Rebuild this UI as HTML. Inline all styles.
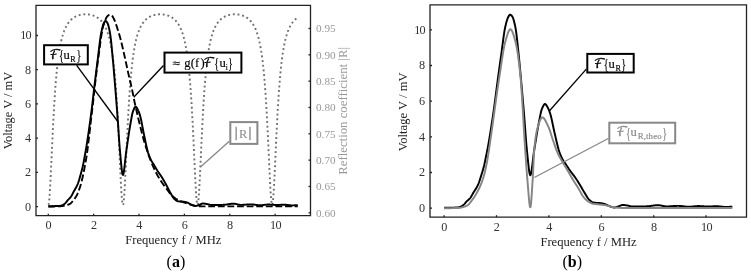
<!DOCTYPE html>
<html><head><meta charset="utf-8"><title>Figure</title><style>
html,body{margin:0;padding:0;background:#fff;}
svg{display:block;}
</style></head><body>
<svg width="751" height="274" viewBox="0 0 751 274" font-family="'Liberation Serif', 'DejaVu Serif', serif">
<path d="M48.30,204.96 L48.41,204.88 L48.53,204.65 L48.64,204.27 L48.75,203.74 L48.87,203.06 L48.98,202.23 L49.09,201.27 L49.21,200.17 L49.32,198.94 L49.43,197.58 L49.55,196.10 L49.66,194.51 L49.77,192.82 L49.89,191.02 L50.00,189.14 L50.11,187.16 L50.23,185.11 L50.34,182.99 L50.45,180.80 L50.57,178.56 L50.68,176.26 L50.79,173.92 L50.91,171.54 L51.02,169.13 L51.13,166.70 L51.25,164.24 L51.36,161.77 L51.48,159.29 L51.59,156.81 L51.70,154.32 L51.82,151.84 L51.93,149.36 L52.04,146.90 L52.16,144.45 L52.27,142.01 L52.38,139.60 L52.50,137.21 L52.61,134.84 L52.72,132.50 L52.84,130.19 L52.95,127.90 L53.06,125.65 L53.18,123.43 L53.29,121.24 L53.40,119.09 L53.52,116.97 L53.63,114.89 L53.74,112.85 L53.86,110.84 L53.97,108.86 L54.08,106.92 L54.20,105.02 L54.31,103.16 L54.42,101.33 L54.54,99.54 L54.65,97.79 L54.76,96.07 L54.88,94.38 L54.99,92.74 L55.10,91.12 L55.22,89.54 L55.33,88.00 L55.44,86.48 L55.56,85.00 L55.67,83.56 L55.78,82.14 L55.90,80.75 L56.01,79.40 L56.12,78.08 L56.24,76.78 L56.35,75.51 L56.46,74.27 L56.58,73.06 L56.69,71.88 L56.80,70.72 L56.92,69.59 L57.03,68.49 L57.15,67.40 L57.26,66.35 L57.37,65.31 L57.49,64.30 L57.60,63.31 L57.71,62.35 L57.83,61.40 L57.94,60.48 L58.05,59.57 L58.17,58.69 L58.28,57.83 L58.39,56.98 L58.51,56.16 L58.62,55.35 L58.73,54.56 L58.85,53.78 L58.96,53.03 L59.07,52.29 L59.19,51.56 L59.30,50.85 L59.41,50.16 L59.53,49.48 L59.64,48.82 L59.75,48.17 L59.87,47.53 L59.98,46.91 L60.09,46.30 L60.21,45.70 L60.32,45.12 L60.43,44.54 L60.55,43.98 L60.66,43.43 L60.77,42.90 L60.89,42.37 L61.00,41.85 L61.11,41.35 L61.23,40.85 L61.34,40.37 L61.45,39.89 L61.57,39.43 L61.68,38.97 L61.79,38.52 L61.91,38.08 L62.02,37.65 L62.13,37.23 L62.25,36.82 L62.36,36.41 L62.47,36.02 L62.59,35.63 L62.70,35.24 L62.82,34.87 L62.93,34.50 L63.04,34.14 L63.16,33.79 L63.27,33.44 L63.38,33.10 L63.50,32.76 L63.61,32.43 L63.72,32.11 L63.84,31.80 L63.95,31.49 L64.06,31.18 L64.18,30.88 L64.29,30.59 L64.40,30.30 L64.52,30.02 L64.63,29.74 L64.74,29.47 L64.86,29.20 L64.97,28.93 L65.08,28.68 L65.20,28.42 L65.31,28.17 L65.42,27.93 L65.54,27.69 L65.65,27.45 L65.76,27.22 L65.88,26.99 L65.99,26.76 L66.10,26.54 L66.22,26.33 L66.33,26.11 L66.44,25.90 L66.56,25.70 L66.67,25.49 L66.78,25.29 L66.90,25.10 L67.01,24.91 L67.12,24.72 L67.24,24.53 L67.35,24.35 L67.46,24.17 L67.58,23.99 L67.69,23.82 L67.80,23.64 L67.92,23.48 L68.03,23.31 L68.14,23.15 L68.26,22.99 L68.37,22.83 L68.49,22.67 L68.60,22.52 L68.71,22.37 L68.83,22.22 L68.94,22.08 L69.05,21.93 L69.17,21.79 L69.28,21.65 L69.39,21.52 L69.51,21.38 L69.62,21.25 L69.73,21.12 L69.85,20.99 L69.96,20.87 L70.07,20.74 L70.19,20.62 L70.30,20.50 L70.41,20.38 L70.53,20.26 L70.64,20.15 L70.75,20.04 L70.87,19.93 L70.98,19.82 L71.09,19.71 L71.21,19.60 L71.32,19.50 L71.43,19.40 L71.55,19.29 L71.66,19.20 L71.77,19.10 L71.89,19.00 L72.00,18.91 L72.11,18.81 L72.23,18.72 L72.34,18.63 L72.45,18.54 L72.57,18.45 L72.68,18.37 L72.79,18.28 L72.91,18.20 L73.02,18.11 L73.13,18.03 L73.25,17.95 L73.36,17.87 L73.47,17.80 L73.59,17.72 L73.70,17.64 L73.81,17.57 L73.93,17.50 L74.04,17.43 L74.16,17.36 L74.27,17.29 L74.38,17.22 L74.50,17.15 L74.61,17.08 L74.72,17.02 L74.84,16.95 L74.95,16.89 L75.06,16.83 L75.18,16.77 L75.29,16.71 L75.40,16.65 L75.52,16.59 L75.63,16.53 L75.74,16.48 L75.86,16.42 L75.97,16.37 L76.08,16.31 L76.20,16.26 L76.31,16.21 L76.42,16.16 L76.54,16.11 L76.65,16.06 L76.76,16.01 L76.88,15.96 L76.99,15.92 L77.10,15.87 L77.22,15.82 L77.33,15.78 L77.44,15.74 L77.56,15.69 L77.67,15.65 L77.78,15.61 L77.90,15.57 L78.01,15.53 L78.12,15.49 L78.24,15.45 L78.35,15.42 L78.46,15.38 L78.58,15.34 L78.69,15.31 L78.80,15.27 L78.92,15.24 L79.03,15.21 L79.14,15.17 L79.26,15.14 L79.37,15.11 L79.48,15.08 L79.60,15.05 L79.71,15.02 L79.83,14.99 L79.94,14.96 L80.05,14.93 L80.17,14.91 L80.28,14.88 L80.39,14.86 L80.51,14.83 L80.62,14.81 L80.73,14.78 L80.85,14.76 L80.96,14.74 L81.07,14.72 L81.19,14.69 L81.30,14.67 L81.41,14.65 L81.53,14.63 L81.64,14.61 L81.75,14.60 L81.87,14.58 L81.98,14.56 L82.09,14.54 L82.21,14.53 L82.32,14.51 L82.43,14.50 L82.55,14.48 L82.66,14.47 L82.77,14.45 L82.89,14.44 L83.00,14.43 L83.11,14.42 L83.23,14.41 L83.34,14.40 L83.45,14.38 L83.57,14.38 L83.68,14.37 L83.79,14.36 L83.91,14.35 L84.02,14.34 L84.13,14.33 L84.25,14.33 L84.36,14.32 L84.47,14.32 L84.59,14.31 L84.70,14.31 L84.81,14.30 L84.93,14.30 L85.04,14.30 L85.16,14.30 L85.27,14.29 L85.38,14.29 L85.50,14.29 L85.61,14.29 L85.72,14.29 L85.84,14.29 L85.95,14.29 L86.06,14.30 L86.18,14.30 L86.29,14.30 L86.40,14.30 L86.52,14.31 L86.63,14.31 L86.74,14.32 L86.86,14.32 L86.97,14.33 L87.08,14.33 L87.20,14.34 L87.31,14.35 L87.42,14.36 L87.54,14.37 L87.65,14.38 L87.76,14.38 L87.88,14.40 L87.99,14.41 L88.10,14.42 L88.22,14.43 L88.33,14.44 L88.44,14.45 L88.56,14.47 L88.67,14.48 L88.78,14.50 L88.90,14.51 L89.01,14.53 L89.12,14.54 L89.24,14.56 L89.35,14.58 L89.46,14.60 L89.58,14.61 L89.69,14.63 L89.80,14.65 L89.92,14.67 L90.03,14.69 L90.14,14.72 L90.26,14.74 L90.37,14.76 L90.48,14.78 L90.60,14.81 L90.71,14.83 L90.82,14.86 L90.94,14.88 L91.05,14.91 L91.17,14.93 L91.28,14.96 L91.39,14.99 L91.51,15.02 L91.62,15.05 L91.73,15.08 L91.85,15.11 L91.96,15.14 L92.07,15.17 L92.19,15.21 L92.30,15.24 L92.41,15.27 L92.53,15.31 L92.64,15.34 L92.75,15.38 L92.87,15.42 L92.98,15.45 L93.09,15.49 L93.21,15.53 L93.32,15.57 L93.43,15.61 L93.55,15.65 L93.66,15.69 L93.77,15.74 L93.89,15.78 L94.00,15.82 L94.11,15.87 L94.23,15.92 L94.34,15.96 L94.45,16.01 L94.57,16.06 L94.68,16.11 L94.79,16.16 L94.91,16.21 L95.02,16.26 L95.13,16.31 L95.25,16.37 L95.36,16.42 L95.47,16.48 L95.59,16.53 L95.70,16.59 L95.81,16.65 L95.93,16.71 L96.04,16.77 L96.15,16.83 L96.27,16.89 L96.38,16.95 L96.50,17.02 L96.61,17.08 L96.72,17.15 L96.84,17.22 L96.95,17.29 L97.06,17.36 L97.18,17.43 L97.29,17.50 L97.40,17.57 L97.52,17.64 L97.63,17.72 L97.74,17.80 L97.86,17.87 L97.97,17.95 L98.08,18.03 L98.20,18.11 L98.31,18.20 L98.42,18.28 L98.54,18.37 L98.65,18.45 L98.76,18.54 L98.88,18.63 L98.99,18.72 L99.10,18.81 L99.22,18.91 L99.33,19.00 L99.44,19.10 L99.56,19.20 L99.67,19.29 L99.78,19.40 L99.90,19.50 L100.01,19.60 L100.12,19.71 L100.24,19.82 L100.35,19.93 L100.46,20.04 L100.58,20.15 L100.69,20.26 L100.80,20.38 L100.92,20.50 L101.03,20.62 L101.14,20.74 L101.26,20.87 L101.37,20.99 L101.48,21.12 L101.60,21.25 L101.71,21.38 L101.82,21.52 L101.94,21.65 L102.05,21.79 L102.16,21.93 L102.28,22.08 L102.39,22.22 L102.51,22.37 L102.62,22.52 L102.73,22.67 L102.85,22.83 L102.96,22.99 L103.07,23.15 L103.19,23.31 L103.30,23.48 L103.41,23.64 L103.53,23.82 L103.64,23.99 L103.75,24.17 L103.87,24.35 L103.98,24.53 L104.09,24.72 L104.21,24.91 L104.32,25.10 L104.43,25.29 L104.55,25.49 L104.66,25.70 L104.77,25.90 L104.89,26.11 L105.00,26.33 L105.11,26.54 L105.23,26.76 L105.34,26.99 L105.45,27.22 L105.57,27.45 L105.68,27.69 L105.79,27.93 L105.91,28.17 L106.02,28.42 L106.13,28.68 L106.25,28.93 L106.36,29.20 L106.47,29.47 L106.59,29.74 L106.70,30.02 L106.81,30.30 L106.93,30.59 L107.04,30.88 L107.15,31.18 L107.27,31.49 L107.38,31.80 L107.49,32.11 L107.61,32.43 L107.72,32.76 L107.83,33.10 L107.95,33.44 L108.06,33.79 L108.18,34.14 L108.29,34.50 L108.40,34.87 L108.52,35.24 L108.63,35.63 L108.74,36.02 L108.86,36.41 L108.97,36.82 L109.08,37.23 L109.20,37.65 L109.31,38.08 L109.42,38.52 L109.54,38.97 L109.65,39.43 L109.76,39.89 L109.88,40.37 L109.99,40.85 L110.10,41.35 L110.22,41.85 L110.33,42.37 L110.44,42.90 L110.56,43.43 L110.67,43.98 L110.78,44.54 L110.90,45.12 L111.01,45.70 L111.12,46.30 L111.24,46.91 L111.35,47.53 L111.46,48.17 L111.58,48.82 L111.69,49.48 L111.80,50.16 L111.92,50.85 L112.03,51.56 L112.14,52.29 L112.26,53.03 L112.37,53.78 L112.48,54.56 L112.60,55.35 L112.71,56.16 L112.82,56.98 L112.94,57.83 L113.05,58.69 L113.16,59.57 L113.28,60.48 L113.39,61.40 L113.50,62.35 L113.62,63.31 L113.73,64.30 L113.85,65.31 L113.96,66.35 L114.07,67.40 L114.19,68.49 L114.30,69.59 L114.41,70.72 L114.53,71.88 L114.64,73.06 L114.75,74.27 L114.87,75.51 L114.98,76.78 L115.09,78.08 L115.21,79.40 L115.32,80.75 L115.43,82.14 L115.55,83.56 L115.66,85.00 L115.77,86.48 L115.89,88.00 L116.00,89.54 L116.11,91.12 L116.23,92.74 L116.34,94.38 L116.45,96.07 L116.57,97.79 L116.68,99.54 L116.79,101.33 L116.91,103.16 L117.02,105.02 L117.13,106.92 L117.25,108.86 L117.36,110.84 L117.47,112.85 L117.59,114.89 L117.70,116.97 L117.81,119.09 L117.93,121.24 L118.04,123.43 L118.15,125.65 L118.27,127.90 L118.38,130.19 L118.49,132.50 L118.61,134.84 L118.72,137.21 L118.83,139.60 L118.95,142.01 L119.06,144.45 L119.17,146.90 L119.29,149.36 L119.40,151.84 L119.52,154.32 L119.63,156.81 L119.74,159.29 L119.86,161.77 L119.97,164.24 L120.08,166.70 L120.20,169.13 L120.31,171.54 L120.42,173.92 L120.54,176.26 L120.65,178.56 L120.76,180.80 L120.88,182.99 L120.99,185.11 L121.10,187.16 L121.22,189.14 L121.33,191.02 L121.44,192.82 L121.56,194.51 L121.67,196.10 L121.78,197.58 L121.90,198.94 L122.01,200.17 L122.12,201.27 L122.24,202.23 L122.35,203.06 L122.46,203.74 L122.58,204.27 L122.69,204.65 L122.80,204.88 L122.92,204.96 L123.03,204.88 L123.14,204.65 L123.26,204.27 L123.37,203.74 L123.48,203.06 L123.60,202.23 L123.71,201.27 L123.82,200.17 L123.94,198.94 L124.05,197.58 L124.16,196.10 L124.28,194.51 L124.39,192.82 L124.50,191.02 L124.62,189.14 L124.73,187.16 L124.84,185.11 L124.96,182.99 L125.07,180.80 L125.19,178.56 L125.30,176.26 L125.41,173.92 L125.53,171.54 L125.64,169.13 L125.75,166.70 L125.87,164.24 L125.98,161.77 L126.09,159.29 L126.21,156.81 L126.32,154.32 L126.43,151.84 L126.55,149.36 L126.66,146.90 L126.77,144.45 L126.89,142.01 L127.00,139.60 L127.11,137.21 L127.23,134.84 L127.34,132.50 L127.45,130.19 L127.57,127.90 L127.68,125.65 L127.79,123.43 L127.91,121.24 L128.02,119.09 L128.13,116.97 L128.25,114.89 L128.36,112.85 L128.47,110.84 L128.59,108.86 L128.70,106.92 L128.81,105.02 L128.93,103.16 L129.04,101.33 L129.15,99.54 L129.27,97.79 L129.38,96.07 L129.49,94.38 L129.61,92.74 L129.72,91.12 L129.83,89.54 L129.95,88.00 L130.06,86.48 L130.17,85.00 L130.29,83.56 L130.40,82.14 L130.51,80.75 L130.63,79.40 L130.74,78.08 L130.86,76.78 L130.97,75.51 L131.08,74.27 L131.20,73.06 L131.31,71.88 L131.42,70.72 L131.54,69.59 L131.65,68.49 L131.76,67.40 L131.88,66.35 L131.99,65.31 L132.10,64.30 L132.22,63.31 L132.33,62.35 L132.44,61.40 L132.56,60.48 L132.67,59.57 L132.78,58.69 L132.90,57.83 L133.01,56.98 L133.12,56.16 L133.24,55.35 L133.35,54.56 L133.46,53.78 L133.58,53.03 L133.69,52.29 L133.80,51.56 L133.92,50.85 L134.03,50.16 L134.14,49.48 L134.26,48.82 L134.37,48.17 L134.48,47.53 L134.60,46.91 L134.71,46.30 L134.82,45.70 L134.94,45.12 L135.05,44.54 L135.16,43.98 L135.28,43.43 L135.39,42.90 L135.50,42.37 L135.62,41.85 L135.73,41.35 L135.84,40.85 L135.96,40.37 L136.07,39.89 L136.19,39.43 L136.30,38.97 L136.41,38.52 L136.53,38.08 L136.64,37.65 L136.75,37.23 L136.87,36.82 L136.98,36.41 L137.09,36.02 L137.21,35.63 L137.32,35.24 L137.43,34.87 L137.55,34.50 L137.66,34.14 L137.77,33.79 L137.89,33.44 L138.00,33.10 L138.11,32.76 L138.23,32.43 L138.34,32.11 L138.45,31.80 L138.57,31.49 L138.68,31.18 L138.79,30.88 L138.91,30.59 L139.02,30.30 L139.13,30.02 L139.25,29.74 L139.36,29.47 L139.47,29.20 L139.59,28.93 L139.70,28.68 L139.81,28.42 L139.93,28.17 L140.04,27.93 L140.15,27.69 L140.27,27.45 L140.38,27.22 L140.49,26.99 L140.61,26.76 L140.72,26.54 L140.83,26.33 L140.95,26.11 L141.06,25.90 L141.17,25.70 L141.29,25.49 L141.40,25.29 L141.51,25.10 L141.63,24.91 L141.74,24.72 L141.85,24.53 L141.97,24.35 L142.08,24.17 L142.20,23.99 L142.31,23.82 L142.42,23.64 L142.54,23.48 L142.65,23.31 L142.76,23.15 L142.88,22.99 L142.99,22.83 L143.10,22.67 L143.22,22.52 L143.33,22.37 L143.44,22.22 L143.56,22.08 L143.67,21.93 L143.78,21.79 L143.90,21.65 L144.01,21.52 L144.12,21.38 L144.24,21.25 L144.35,21.12 L144.46,20.99 L144.58,20.87 L144.69,20.74 L144.80,20.62 L144.92,20.50 L145.03,20.38 L145.14,20.26 L145.26,20.15 L145.37,20.04 L145.48,19.93 L145.60,19.82 L145.71,19.71 L145.82,19.60 L145.94,19.50 L146.05,19.40 L146.16,19.29 L146.28,19.20 L146.39,19.10 L146.50,19.00 L146.62,18.91 L146.73,18.81 L146.84,18.72 L146.96,18.63 L147.07,18.54 L147.18,18.45 L147.30,18.37 L147.41,18.28 L147.52,18.20 L147.64,18.11 L147.75,18.03 L147.87,17.95 L147.98,17.87 L148.09,17.80 L148.21,17.72 L148.32,17.64 L148.43,17.57 L148.55,17.50 L148.66,17.43 L148.77,17.36 L148.89,17.29 L149.00,17.22 L149.11,17.15 L149.23,17.08 L149.34,17.02 L149.45,16.95 L149.57,16.89 L149.68,16.83 L149.79,16.77 L149.91,16.71 L150.02,16.65 L150.13,16.59 L150.25,16.53 L150.36,16.48 L150.47,16.42 L150.59,16.37 L150.70,16.31 L150.81,16.26 L150.93,16.21 L151.04,16.16 L151.15,16.11 L151.27,16.06 L151.38,16.01 L151.49,15.96 L151.61,15.92 L151.72,15.87 L151.83,15.82 L151.95,15.78 L152.06,15.74 L152.17,15.69 L152.29,15.65 L152.40,15.61 L152.51,15.57 L152.63,15.53 L152.74,15.49 L152.85,15.45 L152.97,15.42 L153.08,15.38 L153.19,15.34 L153.31,15.31 L153.42,15.27 L153.54,15.24 L153.65,15.21 L153.76,15.17 L153.88,15.14 L153.99,15.11 L154.10,15.08 L154.22,15.05 L154.33,15.02 L154.44,14.99 L154.56,14.96 L154.67,14.93 L154.78,14.91 L154.90,14.88 L155.01,14.86 L155.12,14.83 L155.24,14.81 L155.35,14.78 L155.46,14.76 L155.58,14.74 L155.69,14.72 L155.80,14.69 L155.92,14.67 L156.03,14.65 L156.14,14.63 L156.26,14.61 L156.37,14.60 L156.48,14.58 L156.60,14.56 L156.71,14.54 L156.82,14.53 L156.94,14.51 L157.05,14.50 L157.16,14.48 L157.28,14.47 L157.39,14.45 L157.50,14.44 L157.62,14.43 L157.73,14.42 L157.84,14.41 L157.96,14.40 L158.07,14.38 L158.18,14.38 L158.30,14.37 L158.41,14.36 L158.52,14.35 L158.64,14.34 L158.75,14.33 L158.87,14.33 L158.98,14.32 L159.09,14.32 L159.21,14.31 L159.32,14.31 L159.43,14.30 L159.55,14.30 L159.66,14.30 L159.77,14.30 L159.89,14.29 L160.00,14.29 L160.11,14.29 L160.23,14.29 L160.34,14.29 L160.45,14.29 L160.57,14.29 L160.68,14.30 L160.79,14.30 L160.91,14.30 L161.02,14.30 L161.13,14.31 L161.25,14.31 L161.36,14.32 L161.47,14.32 L161.59,14.33 L161.70,14.33 L161.81,14.34 L161.93,14.35 L162.04,14.36 L162.15,14.37 L162.27,14.38 L162.38,14.38 L162.49,14.40 L162.61,14.41 L162.72,14.42 L162.83,14.43 L162.95,14.44 L163.06,14.45 L163.17,14.47 L163.29,14.48 L163.40,14.50 L163.51,14.51 L163.63,14.53 L163.74,14.54 L163.85,14.56 L163.97,14.58 L164.08,14.60 L164.19,14.61 L164.31,14.63 L164.42,14.65 L164.53,14.67 L164.65,14.69 L164.76,14.72 L164.88,14.74 L164.99,14.76 L165.10,14.78 L165.22,14.81 L165.33,14.83 L165.44,14.86 L165.56,14.88 L165.67,14.91 L165.78,14.93 L165.90,14.96 L166.01,14.99 L166.12,15.02 L166.24,15.05 L166.35,15.08 L166.46,15.11 L166.58,15.14 L166.69,15.17 L166.80,15.21 L166.92,15.24 L167.03,15.27 L167.14,15.31 L167.26,15.34 L167.37,15.38 L167.48,15.42 L167.60,15.45 L167.71,15.49 L167.82,15.53 L167.94,15.57 L168.05,15.61 L168.16,15.65 L168.28,15.69 L168.39,15.74 L168.50,15.78 L168.62,15.82 L168.73,15.87 L168.84,15.92 L168.96,15.96 L169.07,16.01 L169.18,16.06 L169.30,16.11 L169.41,16.16 L169.52,16.21 L169.64,16.26 L169.75,16.31 L169.86,16.37 L169.98,16.42 L170.09,16.48 L170.20,16.53 L170.32,16.59 L170.43,16.65 L170.55,16.71 L170.66,16.77 L170.77,16.83 L170.89,16.89 L171.00,16.95 L171.11,17.02 L171.23,17.08 L171.34,17.15 L171.45,17.22 L171.57,17.29 L171.68,17.36 L171.79,17.43 L171.91,17.50 L172.02,17.57 L172.13,17.64 L172.25,17.72 L172.36,17.80 L172.47,17.87 L172.59,17.95 L172.70,18.03 L172.81,18.11 L172.93,18.20 L173.04,18.28 L173.15,18.37 L173.27,18.45 L173.38,18.54 L173.49,18.63 L173.61,18.72 L173.72,18.81 L173.83,18.91 L173.95,19.00 L174.06,19.10 L174.17,19.20 L174.29,19.29 L174.40,19.40 L174.51,19.50 L174.63,19.60 L174.74,19.71 L174.85,19.82 L174.97,19.93 L175.08,20.04 L175.19,20.15 L175.31,20.26 L175.42,20.38 L175.53,20.50 L175.65,20.62 L175.76,20.74 L175.88,20.87 L175.99,20.99 L176.10,21.12 L176.22,21.25 L176.33,21.38 L176.44,21.52 L176.56,21.65 L176.67,21.79 L176.78,21.93 L176.90,22.08 L177.01,22.22 L177.12,22.37 L177.24,22.52 L177.35,22.67 L177.46,22.83 L177.58,22.99 L177.69,23.15 L177.80,23.31 L177.92,23.48 L178.03,23.64 L178.14,23.82 L178.26,23.99 L178.37,24.17 L178.48,24.35 L178.60,24.53 L178.71,24.72 L178.82,24.91 L178.94,25.10 L179.05,25.29 L179.16,25.49 L179.28,25.70 L179.39,25.90 L179.50,26.11 L179.62,26.33 L179.73,26.54 L179.84,26.76 L179.96,26.99 L180.07,27.22 L180.18,27.45 L180.30,27.69 L180.41,27.93 L180.52,28.17 L180.64,28.42 L180.75,28.68 L180.86,28.93 L180.98,29.20 L181.09,29.47 L181.20,29.74 L181.32,30.02 L181.43,30.30 L181.55,30.59 L181.66,30.88 L181.77,31.18 L181.89,31.49 L182.00,31.80 L182.11,32.11 L182.23,32.43 L182.34,32.76 L182.45,33.10 L182.57,33.44 L182.68,33.79 L182.79,34.14 L182.91,34.50 L183.02,34.87 L183.13,35.24 L183.25,35.63 L183.36,36.02 L183.47,36.41 L183.59,36.82 L183.70,37.23 L183.81,37.65 L183.93,38.08 L184.04,38.52 L184.15,38.97 L184.27,39.43 L184.38,39.89 L184.49,40.37 L184.61,40.85 L184.72,41.35 L184.83,41.85 L184.95,42.37 L185.06,42.90 L185.17,43.43 L185.29,43.98 L185.40,44.54 L185.51,45.12 L185.63,45.70 L185.74,46.30 L185.85,46.91 L185.97,47.53 L186.08,48.17 L186.19,48.82 L186.31,49.48 L186.42,50.16 L186.53,50.85 L186.65,51.56 L186.76,52.29 L186.87,53.03 L186.99,53.78 L187.10,54.56 L187.21,55.35 L187.33,56.16 L187.44,56.98 L187.56,57.83 L187.67,58.69 L187.78,59.57 L187.90,60.48 L188.01,61.40 L188.12,62.35 L188.24,63.31 L188.35,64.30 L188.46,65.31 L188.58,66.35 L188.69,67.40 L188.80,68.49 L188.92,69.59 L189.03,70.72 L189.14,71.88 L189.26,73.06 L189.37,74.27 L189.48,75.51 L189.60,76.78 L189.71,78.08 L189.82,79.40 L189.94,80.75 L190.05,82.14 L190.16,83.56 L190.28,85.00 L190.39,86.48 L190.50,88.00 L190.62,89.54 L190.73,91.12 L190.84,92.74 L190.96,94.38 L191.07,96.07 L191.18,97.79 L191.30,99.54 L191.41,101.33 L191.52,103.16 L191.64,105.02 L191.75,106.92 L191.86,108.86 L191.98,110.84 L192.09,112.85 L192.20,114.89 L192.32,116.97 L192.43,119.09 L192.54,121.24 L192.66,123.43 L192.77,125.65 L192.88,127.90 L193.00,130.19 L193.11,132.50 L193.23,134.84 L193.34,137.21 L193.45,139.60 L193.57,142.01 L193.68,144.45 L193.79,146.90 L193.91,149.36 L194.02,151.84 L194.13,154.32 L194.25,156.81 L194.36,159.29 L194.47,161.77 L194.59,164.24 L194.70,166.70 L194.81,169.13 L194.93,171.54 L195.04,173.92 L195.15,176.26 L195.27,178.56 L195.38,180.80 L195.49,182.99 L195.61,185.11 L195.72,187.16 L195.83,189.14 L195.95,191.02 L196.06,192.82 L196.17,194.51 L196.29,196.10 L196.40,197.58 L196.51,198.94 L196.63,200.17 L196.74,201.27 L196.85,202.23 L196.97,203.06 L197.08,203.74 L197.19,204.27 L197.31,204.65 L197.42,204.88 L197.53,204.96 L197.65,204.88 L197.76,204.65 L197.87,204.27 L197.99,203.74 L198.10,203.06 L198.21,202.23 L198.33,201.27 L198.44,200.17 L198.56,198.94 L198.67,197.58 L198.78,196.10 L198.90,194.51 L199.01,192.82 L199.12,191.02 L199.24,189.14 L199.35,187.16 L199.46,185.11 L199.58,182.99 L199.69,180.80 L199.80,178.56 L199.92,176.26 L200.03,173.92 L200.14,171.54 L200.26,169.13 L200.37,166.70 L200.48,164.24 L200.60,161.77 L200.71,159.29 L200.82,156.81 L200.94,154.32 L201.05,151.84 L201.16,149.36 L201.28,146.90 L201.39,144.45 L201.50,142.01 L201.62,139.60 L201.73,137.21 L201.84,134.84 L201.96,132.50 L202.07,130.19 L202.18,127.90 L202.30,125.65 L202.41,123.43 L202.52,121.24 L202.64,119.09 L202.75,116.97 L202.86,114.89 L202.98,112.85 L203.09,110.84 L203.20,108.86 L203.32,106.92 L203.43,105.02 L203.54,103.16 L203.66,101.33 L203.77,99.54 L203.88,97.79 L204.00,96.07 L204.11,94.38 L204.23,92.74 L204.34,91.12 L204.45,89.54 L204.57,88.00 L204.68,86.48 L204.79,85.00 L204.91,83.56 L205.02,82.14 L205.13,80.75 L205.25,79.40 L205.36,78.08 L205.47,76.78 L205.59,75.51 L205.70,74.27 L205.81,73.06 L205.93,71.88 L206.04,70.72 L206.15,69.59 L206.27,68.49 L206.38,67.40 L206.49,66.35 L206.61,65.31 L206.72,64.30 L206.83,63.31 L206.95,62.35 L207.06,61.40 L207.17,60.48 L207.29,59.57 L207.40,58.69 L207.51,57.83 L207.63,56.98 L207.74,56.16 L207.85,55.35 L207.97,54.56 L208.08,53.78 L208.19,53.03 L208.31,52.29 L208.42,51.56 L208.53,50.85 L208.65,50.16 L208.76,49.48 L208.87,48.82 L208.99,48.17 L209.10,47.53 L209.21,46.91 L209.33,46.30 L209.44,45.70 L209.55,45.12 L209.67,44.54 L209.78,43.98 L209.89,43.43 L210.01,42.90 L210.12,42.37 L210.24,41.85 L210.35,41.35 L210.46,40.85 L210.58,40.37 L210.69,39.89 L210.80,39.43 L210.92,38.97 L211.03,38.52 L211.14,38.08 L211.26,37.65 L211.37,37.23 L211.48,36.82 L211.60,36.41 L211.71,36.02 L211.82,35.63 L211.94,35.24 L212.05,34.87 L212.16,34.50 L212.28,34.14 L212.39,33.79 L212.50,33.44 L212.62,33.10 L212.73,32.76 L212.84,32.43 L212.96,32.11 L213.07,31.80 L213.18,31.49 L213.30,31.18 L213.41,30.88 L213.52,30.59 L213.64,30.30 L213.75,30.02 L213.86,29.74 L213.98,29.47 L214.09,29.20 L214.20,28.93 L214.32,28.68 L214.43,28.42 L214.54,28.17 L214.66,27.93 L214.77,27.69 L214.88,27.45 L215.00,27.22 L215.11,26.99 L215.22,26.76 L215.34,26.54 L215.45,26.33 L215.56,26.11 L215.68,25.90 L215.79,25.70 L215.91,25.49 L216.02,25.29 L216.13,25.10 L216.25,24.91 L216.36,24.72 L216.47,24.53 L216.59,24.35 L216.70,24.17 L216.81,23.99 L216.93,23.82 L217.04,23.64 L217.15,23.48 L217.27,23.31 L217.38,23.15 L217.49,22.99 L217.61,22.83 L217.72,22.67 L217.83,22.52 L217.95,22.37 L218.06,22.22 L218.17,22.08 L218.29,21.93 L218.40,21.79 L218.51,21.65 L218.63,21.52 L218.74,21.38 L218.85,21.25 L218.97,21.12 L219.08,20.99 L219.19,20.87 L219.31,20.74 L219.42,20.62 L219.53,20.50 L219.65,20.38 L219.76,20.26 L219.87,20.15 L219.99,20.04 L220.10,19.93 L220.21,19.82 L220.33,19.71 L220.44,19.60 L220.55,19.50 L220.67,19.40 L220.78,19.29 L220.89,19.20 L221.01,19.10 L221.12,19.00 L221.24,18.91 L221.35,18.81 L221.46,18.72 L221.58,18.63 L221.69,18.54 L221.80,18.45 L221.92,18.37 L222.03,18.28 L222.14,18.20 L222.26,18.11 L222.37,18.03 L222.48,17.95 L222.60,17.87 L222.71,17.80 L222.82,17.72 L222.94,17.64 L223.05,17.57 L223.16,17.50 L223.28,17.43 L223.39,17.36 L223.50,17.29 L223.62,17.22 L223.73,17.15 L223.84,17.08 L223.96,17.02 L224.07,16.95 L224.18,16.89 L224.30,16.83 L224.41,16.77 L224.52,16.71 L224.64,16.65 L224.75,16.59 L224.86,16.53 L224.98,16.48 L225.09,16.42 L225.20,16.37 L225.32,16.31 L225.43,16.26 L225.54,16.21 L225.66,16.16 L225.77,16.11 L225.88,16.06 L226.00,16.01 L226.11,15.96 L226.22,15.92 L226.34,15.87 L226.45,15.82 L226.56,15.78 L226.68,15.74 L226.79,15.69 L226.90,15.65 L227.02,15.61 L227.13,15.57 L227.25,15.53 L227.36,15.49 L227.47,15.45 L227.59,15.42 L227.70,15.38 L227.81,15.34 L227.93,15.31 L228.04,15.27 L228.15,15.24 L228.27,15.21 L228.38,15.17 L228.49,15.14 L228.61,15.11 L228.72,15.08 L228.83,15.05 L228.95,15.02 L229.06,14.99 L229.17,14.96 L229.29,14.93 L229.40,14.91 L229.51,14.88 L229.63,14.86 L229.74,14.83 L229.85,14.81 L229.97,14.78 L230.08,14.76 L230.19,14.74 L230.31,14.72 L230.42,14.69 L230.53,14.67 L230.65,14.65 L230.76,14.63 L230.87,14.61 L230.99,14.60 L231.10,14.58 L231.21,14.56 L231.33,14.54 L231.44,14.53 L231.55,14.51 L231.67,14.50 L231.78,14.48 L231.89,14.47 L232.01,14.45 L232.12,14.44 L232.23,14.43 L232.35,14.42 L232.46,14.41 L232.57,14.40 L232.69,14.38 L232.80,14.38 L232.92,14.37 L233.03,14.36 L233.14,14.35 L233.26,14.34 L233.37,14.33 L233.48,14.33 L233.60,14.32 L233.71,14.32 L233.82,14.31 L233.94,14.31 L234.05,14.30 L234.16,14.30 L234.28,14.30 L234.39,14.30 L234.50,14.29 L234.62,14.29 L234.73,14.29 L234.84,14.29 L234.96,14.29 L235.07,14.29 L235.18,14.29 L235.30,14.30 L235.41,14.30 L235.52,14.30 L235.64,14.30 L235.75,14.31 L235.86,14.31 L235.98,14.32 L236.09,14.32 L236.20,14.33 L236.32,14.33 L236.43,14.34 L236.54,14.35 L236.66,14.36 L236.77,14.37 L236.88,14.38 L237.00,14.38 L237.11,14.40 L237.22,14.41 L237.34,14.42 L237.45,14.43 L237.56,14.44 L237.68,14.45 L237.79,14.47 L237.90,14.48 L238.02,14.50 L238.13,14.51 L238.25,14.53 L238.36,14.54 L238.47,14.56 L238.59,14.58 L238.70,14.60 L238.81,14.61 L238.93,14.63 L239.04,14.65 L239.15,14.67 L239.27,14.69 L239.38,14.72 L239.49,14.74 L239.61,14.76 L239.72,14.78 L239.83,14.81 L239.95,14.83 L240.06,14.86 L240.17,14.88 L240.29,14.91 L240.40,14.93 L240.51,14.96 L240.63,14.99 L240.74,15.02 L240.85,15.05 L240.97,15.08 L241.08,15.11 L241.19,15.14 L241.31,15.17 L241.42,15.21 L241.53,15.24 L241.65,15.27 L241.76,15.31 L241.87,15.34 L241.99,15.38 L242.10,15.42 L242.21,15.45 L242.33,15.49 L242.44,15.53 L242.55,15.57 L242.67,15.61 L242.78,15.65 L242.89,15.69 L243.01,15.74 L243.12,15.78 L243.23,15.82 L243.35,15.87 L243.46,15.92 L243.57,15.96 L243.69,16.01 L243.80,16.06 L243.92,16.11 L244.03,16.16 L244.14,16.21 L244.26,16.26 L244.37,16.31 L244.48,16.37 L244.60,16.42 L244.71,16.48 L244.82,16.53 L244.94,16.59 L245.05,16.65 L245.16,16.71 L245.28,16.77 L245.39,16.83 L245.50,16.89 L245.62,16.95 L245.73,17.02 L245.84,17.08 L245.96,17.15 L246.07,17.22 L246.18,17.29 L246.30,17.36 L246.41,17.43 L246.52,17.50 L246.64,17.57 L246.75,17.64 L246.86,17.72 L246.98,17.80 L247.09,17.87 L247.20,17.95 L247.32,18.03 L247.43,18.11 L247.54,18.20 L247.66,18.28 L247.77,18.37 L247.88,18.45 L248.00,18.54 L248.11,18.63 L248.22,18.72 L248.34,18.81 L248.45,18.91 L248.56,19.00 L248.68,19.10 L248.79,19.20 L248.90,19.29 L249.02,19.40 L249.13,19.50 L249.24,19.60 L249.36,19.71 L249.47,19.82 L249.58,19.93 L249.70,20.04 L249.81,20.15 L249.93,20.26 L250.04,20.38 L250.15,20.50 L250.27,20.62 L250.38,20.74 L250.49,20.87 L250.61,20.99 L250.72,21.12 L250.83,21.25 L250.95,21.38 L251.06,21.52 L251.17,21.65 L251.29,21.79 L251.40,21.93 L251.51,22.08 L251.63,22.22 L251.74,22.37 L251.85,22.52 L251.97,22.67 L252.08,22.83 L252.19,22.99 L252.31,23.15 L252.42,23.31 L252.53,23.48 L252.65,23.64 L252.76,23.82 L252.87,23.99 L252.99,24.17 L253.10,24.35 L253.21,24.53 L253.33,24.72 L253.44,24.91 L253.55,25.10 L253.67,25.29 L253.78,25.49 L253.89,25.70 L254.01,25.90 L254.12,26.11 L254.23,26.33 L254.35,26.54 L254.46,26.76 L254.57,26.99 L254.69,27.22 L254.80,27.45 L254.91,27.69 L255.03,27.93 L255.14,28.17 L255.25,28.42 L255.37,28.68 L255.48,28.93 L255.60,29.20 L255.71,29.47 L255.82,29.74 L255.94,30.02 L256.05,30.30 L256.16,30.59 L256.28,30.88 L256.39,31.18 L256.50,31.49 L256.62,31.80 L256.73,32.11 L256.84,32.43 L256.96,32.76 L257.07,33.10 L257.18,33.44 L257.30,33.79 L257.41,34.14 L257.52,34.50 L257.64,34.87 L257.75,35.24 L257.86,35.63 L257.98,36.02 L258.09,36.41 L258.20,36.82 L258.32,37.23 L258.43,37.65 L258.54,38.08 L258.66,38.52 L258.77,38.97 L258.88,39.43 L259.00,39.89 L259.11,40.37 L259.22,40.85 L259.34,41.35 L259.45,41.85 L259.56,42.37 L259.68,42.90 L259.79,43.43 L259.90,43.98 L260.02,44.54 L260.13,45.12 L260.24,45.70 L260.36,46.30 L260.47,46.91 L260.58,47.53 L260.70,48.17 L260.81,48.82 L260.93,49.48 L261.04,50.16 L261.15,50.85 L261.27,51.56 L261.38,52.29 L261.49,53.03 L261.61,53.78 L261.72,54.56 L261.83,55.35 L261.95,56.16 L262.06,56.98 L262.17,57.83 L262.29,58.69 L262.40,59.57 L262.51,60.48 L262.63,61.40 L262.74,62.35 L262.85,63.31 L262.97,64.30 L263.08,65.31 L263.19,66.35 L263.31,67.40 L263.42,68.49 L263.53,69.59 L263.65,70.72 L263.76,71.88 L263.87,73.06 L263.99,74.27 L264.10,75.51 L264.21,76.78 L264.33,78.08 L264.44,79.40 L264.55,80.75 L264.67,82.14 L264.78,83.56 L264.89,85.00 L265.01,86.48 L265.12,88.00 L265.23,89.54 L265.35,91.12 L265.46,92.74 L265.57,94.38 L265.69,96.07 L265.80,97.79 L265.91,99.54 L266.03,101.33 L266.14,103.16 L266.25,105.02 L266.37,106.92 L266.48,108.86 L266.59,110.84 L266.71,112.85 L266.82,114.89 L266.94,116.97 L267.05,119.09 L267.16,121.24 L267.28,123.43 L267.39,125.65 L267.50,127.90 L267.62,130.19 L267.73,132.50 L267.84,134.84 L267.96,137.21 L268.07,139.60 L268.18,142.01 L268.30,144.45 L268.41,146.90 L268.52,149.36 L268.64,151.84 L268.75,154.32 L268.86,156.81 L268.98,159.29 L269.09,161.77 L269.20,164.24 L269.32,166.70 L269.43,169.13 L269.54,171.54 L269.66,173.92 L269.77,176.26 L269.88,178.56 L270.00,180.80 L270.11,182.99 L270.22,185.11 L270.34,187.16 L270.45,189.14 L270.56,191.02 L270.68,192.82 L270.79,194.51 L270.90,196.10 L271.02,197.58 L271.13,198.94 L271.24,200.17 L271.36,201.27 L271.47,202.23 L271.58,203.06 L271.70,203.74 L271.81,204.27 L271.92,204.65 L272.04,204.88 L272.15,204.96 L272.26,204.88 L272.38,204.65 L272.49,204.27 L272.61,203.74 L272.72,203.06 L272.83,202.23 L272.95,201.27 L273.06,200.17 L273.17,198.94 L273.29,197.58 L273.40,196.10 L273.51,194.51 L273.63,192.82 L273.74,191.02 L273.85,189.14 L273.97,187.16 L274.08,185.11 L274.19,182.99 L274.31,180.80 L274.42,178.56 L274.53,176.26 L274.65,173.92 L274.76,171.54 L274.87,169.13 L274.99,166.70 L275.10,164.24 L275.21,161.77 L275.33,159.29 L275.44,156.81 L275.55,154.32 L275.67,151.84 L275.78,149.36 L275.89,146.90 L276.01,144.45 L276.12,142.01 L276.23,139.60 L276.35,137.21 L276.46,134.84 L276.57,132.50 L276.69,130.19 L276.80,127.90 L276.91,125.65 L277.03,123.43 L277.14,121.24 L277.25,119.09 L277.37,116.97 L277.48,114.89 L277.59,112.85 L277.71,110.84 L277.82,108.86 L277.94,106.92 L278.05,105.02 L278.16,103.16 L278.28,101.33 L278.39,99.54 L278.50,97.79 L278.62,96.07 L278.73,94.38 L278.84,92.74 L278.96,91.12 L279.07,89.54 L279.18,88.00 L279.30,86.48 L279.41,85.00 L279.52,83.56 L279.64,82.14 L279.75,80.75 L279.86,79.40 L279.98,78.08 L280.09,76.78 L280.20,75.51 L280.32,74.27 L280.43,73.06 L280.54,71.88 L280.66,70.72 L280.77,69.59 L280.88,68.49 L281.00,67.40 L281.11,66.35 L281.22,65.31 L281.34,64.30 L281.45,63.31 L281.56,62.35 L281.68,61.40 L281.79,60.48 L281.90,59.57 L282.02,58.69 L282.13,57.83 L282.24,56.98 L282.36,56.16 L282.47,55.35 L282.58,54.56 L282.70,53.78 L282.81,53.03 L282.92,52.29 L283.04,51.56 L283.15,50.85 L283.26,50.16 L283.38,49.48 L283.49,48.82 L283.61,48.17 L283.72,47.53 L283.83,46.91 L283.95,46.30 L284.06,45.70 L284.17,45.12 L284.29,44.54 L284.40,43.98 L284.51,43.43 L284.63,42.90 L284.74,42.37 L284.85,41.85 L284.97,41.35 L285.08,40.85 L285.19,40.37 L285.31,39.89 L285.42,39.43 L285.53,38.97 L285.65,38.52 L285.76,38.08 L285.87,37.65 L285.99,37.23 L286.10,36.82 L286.21,36.41 L286.33,36.02 L286.44,35.63 L286.55,35.24 L286.67,34.87 L286.78,34.50 L286.89,34.14 L287.01,33.79 L287.12,33.44 L287.23,33.10 L287.35,32.76 L287.46,32.43 L287.57,32.11 L287.69,31.80 L287.80,31.49 L287.91,31.18 L288.03,30.88 L288.14,30.59 L288.25,30.30 L288.37,30.02 L288.48,29.74 L288.59,29.47 L288.71,29.20 L288.82,28.93 L288.93,28.68 L289.05,28.42 L289.16,28.17 L289.27,27.93 L289.39,27.69 L289.50,27.45 L289.62,27.22 L289.73,26.99 L289.84,26.76 L289.96,26.54 L290.07,26.33 L290.18,26.11 L290.30,25.90 L290.41,25.70 L290.52,25.49 L290.64,25.29 L290.75,25.10 L290.86,24.91 L290.98,24.72 L291.09,24.53 L291.20,24.35 L291.32,24.17 L291.43,23.99 L291.54,23.82 L291.66,23.64 L291.77,23.48 L291.88,23.31 L292.00,23.15 L292.11,22.99 L292.22,22.83 L292.34,22.67 L292.45,22.52 L292.56,22.37 L292.68,22.22 L292.79,22.08 L292.90,21.93 L293.02,21.79 L293.13,21.65 L293.24,21.52 L293.36,21.38 L293.47,21.25 L293.58,21.12 L293.70,20.99 L293.81,20.87 L293.92,20.74 L294.04,20.62 L294.15,20.50 L294.26,20.38 L294.38,20.26 L294.49,20.15 L294.60,20.04 L294.72,19.93 L294.83,19.82 L294.94,19.71 L295.06,19.60 L295.17,19.50 L295.29,19.40 L295.40,19.29 L295.51,19.20 L295.63,19.10 L295.74,19.00 L295.85,18.91 L295.97,18.81 L296.08,18.72 L296.19,18.63 L296.31,18.54 L296.42,18.45 L296.53,18.37 L296.65,18.28 L296.76,18.20 L296.87,18.11 L296.99,18.03 L297.10,17.95 L297.21,17.87 L297.33,17.80 L297.44,17.72 L297.55,17.64 L297.67,17.57 L297.78,17.50" fill="none" stroke="#707070" stroke-width="1.9" stroke-dasharray="1.9 2.8"/><path d="M48.30,206.60 L48.53,206.60 L48.75,206.60 L48.98,206.60 L49.21,206.60 L49.43,206.60 L49.66,206.59 L49.89,206.59 L50.11,206.59 L50.34,206.59 L50.57,206.59 L50.79,206.58 L51.02,206.58 L51.25,206.58 L51.48,206.57 L51.70,206.57 L51.93,206.56 L52.16,206.56 L52.38,206.55 L52.61,206.55 L52.84,206.54 L53.06,206.54 L53.29,206.53 L53.52,206.53 L53.74,206.52 L53.97,206.51 L54.20,206.51 L54.42,206.50 L54.65,206.49 L54.88,206.49 L55.10,206.48 L55.33,206.47 L55.56,206.46 L55.78,206.45 L56.01,206.44 L56.24,206.44 L56.46,206.43 L56.69,206.42 L56.92,206.41 L57.15,206.40 L57.37,206.39 L57.60,206.38 L57.83,206.37 L58.05,206.36 L58.28,206.35 L58.51,206.34 L58.73,206.33 L58.96,206.32 L59.19,206.30 L59.41,206.29 L59.64,206.28 L59.87,206.27 L60.09,206.26 L60.32,206.24 L60.55,206.23 L60.77,206.21 L61.00,206.19 L61.23,206.17 L61.45,206.15 L61.68,206.13 L61.91,206.10 L62.13,206.07 L62.36,206.04 L62.59,206.01 L62.82,205.98 L63.04,205.94 L63.27,205.90 L63.50,205.86 L63.72,205.82 L63.95,205.78 L64.18,205.73 L64.40,205.69 L64.63,205.64 L64.86,205.59 L65.08,205.54 L65.31,205.48 L65.54,205.43 L65.76,205.37 L65.99,205.31 L66.22,205.25 L66.44,205.18 L66.67,205.12 L66.90,205.05 L67.12,204.99 L67.35,204.91 L67.58,204.84 L67.80,204.77 L68.03,204.69 L68.26,204.62 L68.49,204.54 L68.71,204.46 L68.94,204.38 L69.17,204.29 L69.39,204.18 L69.62,204.06 L69.85,203.93 L70.07,203.78 L70.30,203.62 L70.53,203.45 L70.75,203.27 L70.98,203.07 L71.21,202.87 L71.43,202.65 L71.66,202.42 L71.89,202.18 L72.11,201.94 L72.34,201.68 L72.57,201.41 L72.79,201.14 L73.02,200.86 L73.25,200.57 L73.47,200.28 L73.70,199.97 L73.93,199.66 L74.16,199.35 L74.38,199.03 L74.61,198.70 L74.84,198.37 L75.06,198.04 L75.29,197.70 L75.52,197.36 L75.74,197.02 L75.97,196.66 L76.20,196.28 L76.42,195.88 L76.65,195.46 L76.88,195.02 L77.10,194.56 L77.33,194.08 L77.56,193.58 L77.78,193.06 L78.01,192.52 L78.24,191.96 L78.46,191.39 L78.69,190.80 L78.92,190.19 L79.14,189.57 L79.37,188.93 L79.60,188.28 L79.83,187.61 L80.05,186.92 L80.28,186.22 L80.51,185.48 L80.73,184.72 L80.96,183.92 L81.19,183.10 L81.41,182.24 L81.64,181.36 L81.87,180.46 L82.09,179.52 L82.32,178.56 L82.55,177.58 L82.77,176.57 L83.00,175.53 L83.23,174.47 L83.45,173.39 L83.68,172.28 L83.91,171.15 L84.13,170.00 L84.36,168.83 L84.59,167.63 L84.81,166.42 L85.04,165.19 L85.27,163.93 L85.50,162.66 L85.72,161.37 L85.95,160.06 L86.18,158.71 L86.40,157.29 L86.63,155.81 L86.86,154.26 L87.08,152.66 L87.31,151.01 L87.54,149.31 L87.76,147.57 L87.99,145.78 L88.22,143.96 L88.44,142.10 L88.67,140.21 L88.90,138.29 L89.12,136.36 L89.35,134.40 L89.58,132.43 L89.80,130.44 L90.03,128.45 L90.26,126.46 L90.48,124.46 L90.71,122.47 L90.94,120.48 L91.17,118.51 L91.39,116.54 L91.62,114.60 L91.85,112.68 L92.07,110.78 L92.30,108.89 L92.53,106.96 L92.75,105.01 L92.98,103.03 L93.21,101.04 L93.43,99.02 L93.66,97.00 L93.89,94.96 L94.11,92.92 L94.34,90.88 L94.57,88.83 L94.79,86.79 L95.02,84.75 L95.25,82.72 L95.47,80.71 L95.70,78.71 L95.93,76.73 L96.15,74.77 L96.38,72.84 L96.61,70.94 L96.84,69.07 L97.06,67.23 L97.29,65.44 L97.52,63.68 L97.74,61.97 L97.97,60.31 L98.20,58.66 L98.42,56.99 L98.65,55.30 L98.88,53.61 L99.10,51.90 L99.33,50.20 L99.56,48.50 L99.78,46.81 L100.01,45.13 L100.24,43.47 L100.46,41.84 L100.69,40.23 L100.92,38.66 L101.14,37.12 L101.37,35.63 L101.60,34.19 L101.82,32.80 L102.05,31.47 L102.28,30.20 L102.51,29.00 L102.73,27.88 L102.96,26.83 L103.19,25.87 L103.41,24.99 L103.64,24.21 L103.87,23.52 L104.09,22.90 L104.32,22.29 L104.55,21.70 L104.77,21.13 L105.00,20.58 L105.23,20.05 L105.45,19.54 L105.68,19.05 L105.91,18.59 L106.13,18.16 L106.36,17.75 L106.59,17.36 L106.81,17.00 L107.04,16.67 L107.27,16.37 L107.49,16.10 L107.72,15.86 L107.95,15.66 L108.18,15.48 L108.40,15.32 L108.63,15.17 L108.86,15.03 L109.08,14.90 L109.31,14.79 L109.54,14.70 L109.76,14.65 L109.99,14.63 L110.22,14.65 L110.44,14.70 L110.67,14.79 L110.90,14.90 L111.12,15.02 L111.35,15.16 L111.58,15.31 L111.80,15.49 L112.03,15.72 L112.26,15.99 L112.48,16.32 L112.71,16.67 L112.94,17.06 L113.16,17.47 L113.39,17.90 L113.62,18.34 L113.85,18.79 L114.07,19.25 L114.30,19.72 L114.53,20.23 L114.75,20.79 L114.98,21.37 L115.21,21.99 L115.43,22.62 L115.66,23.26 L115.89,23.92 L116.11,24.58 L116.34,25.23 L116.57,25.90 L116.79,26.58 L117.02,27.28 L117.25,28.00 L117.47,28.72 L117.70,29.45 L117.93,30.19 L118.15,30.94 L118.38,31.68 L118.61,32.42 L118.83,33.15 L119.06,33.89 L119.29,34.62 L119.52,35.36 L119.74,36.13 L119.97,36.91 L120.20,37.72 L120.42,38.57 L120.65,39.43 L120.88,40.30 L121.10,41.20 L121.33,42.11 L121.56,43.03 L121.78,43.97 L122.01,44.92 L122.24,45.88 L122.46,46.85 L122.69,47.83 L122.92,48.82 L123.14,49.81 L123.37,50.82 L123.60,51.83 L123.82,52.84 L124.05,53.86 L124.28,54.87 L124.50,55.89 L124.73,56.91 L124.96,57.93 L125.19,58.95 L125.41,59.97 L125.64,60.99 L125.87,62.03 L126.09,63.08 L126.32,64.15 L126.55,65.22 L126.77,66.29 L127.00,67.37 L127.23,68.44 L127.45,69.50 L127.68,70.56 L127.91,71.60 L128.13,72.63 L128.36,73.64 L128.59,74.63 L128.81,75.61 L129.04,76.59 L129.27,77.55 L129.49,78.50 L129.72,79.45 L129.95,80.40 L130.17,81.35 L130.40,82.30 L130.63,83.26 L130.86,84.22 L131.08,85.19 L131.31,86.17 L131.54,87.17 L131.76,88.18 L131.99,89.20 L132.22,90.25 L132.44,91.33 L132.67,92.44 L132.90,93.58 L133.12,94.74 L133.35,95.90 L133.58,97.08 L133.80,98.25 L134.03,99.40 L134.26,100.55 L134.48,101.66 L134.71,102.74 L134.94,103.79 L135.16,104.82 L135.39,105.84 L135.62,106.84 L135.84,107.83 L136.07,108.81 L136.30,109.80 L136.53,110.78 L136.75,111.77 L136.98,112.76 L137.21,113.75 L137.43,114.74 L137.66,115.73 L137.89,116.71 L138.11,117.69 L138.34,118.65 L138.57,119.61 L138.79,120.56 L139.02,121.50 L139.25,122.42 L139.47,123.33 L139.70,124.25 L139.93,125.17 L140.15,126.08 L140.38,126.99 L140.61,127.90 L140.83,128.81 L141.06,129.71 L141.29,130.61 L141.51,131.51 L141.74,132.39 L141.97,133.27 L142.20,134.15 L142.42,135.01 L142.65,135.87 L142.88,136.72 L143.10,137.55 L143.33,138.38 L143.56,139.19 L143.78,140.00 L144.01,140.79 L144.24,141.56 L144.46,142.33 L144.69,143.07 L144.92,143.81 L145.14,144.53 L145.37,145.24 L145.60,145.96 L145.82,146.66 L146.05,147.36 L146.28,148.06 L146.50,148.75 L146.73,149.43 L146.96,150.11 L147.18,150.78 L147.41,151.45 L147.64,152.12 L147.87,152.77 L148.09,153.43 L148.32,154.07 L148.55,154.72 L148.77,155.35 L149.00,155.98 L149.23,156.61 L149.45,157.23 L149.68,157.84 L149.91,158.45 L150.13,159.06 L150.36,159.65 L150.59,160.25 L150.81,160.83 L151.04,161.41 L151.27,161.99 L151.49,162.56 L151.72,163.12 L151.95,163.68 L152.17,164.24 L152.40,164.78 L152.63,165.32 L152.85,165.86 L153.08,166.39 L153.31,166.92 L153.54,167.44 L153.76,167.95 L153.99,168.46 L154.22,168.96 L154.44,169.45 L154.67,169.93 L154.90,170.41 L155.12,170.87 L155.35,171.32 L155.58,171.77 L155.80,172.21 L156.03,172.64 L156.26,173.06 L156.48,173.48 L156.71,173.90 L156.94,174.31 L157.16,174.71 L157.39,175.12 L157.62,175.52 L157.84,175.92 L158.07,176.31 L158.30,176.70 L158.52,177.09 L158.75,177.47 L158.98,177.85 L159.21,178.22 L159.43,178.60 L159.66,178.96 L159.89,179.33 L160.11,179.69 L160.34,180.05 L160.57,180.41 L160.79,180.76 L161.02,181.11 L161.25,181.46 L161.47,181.80 L161.70,182.14 L161.93,182.47 L162.15,182.81 L162.38,183.14 L162.61,183.46 L162.83,183.78 L163.06,184.10 L163.29,184.42 L163.51,184.73 L163.74,185.04 L163.97,185.35 L164.19,185.65 L164.42,185.95 L164.65,186.26 L164.88,186.56 L165.10,186.86 L165.33,187.15 L165.56,187.45 L165.78,187.75 L166.01,188.04 L166.24,188.34 L166.46,188.64 L166.69,188.93 L166.92,189.23 L167.14,189.53 L167.37,189.83 L167.60,190.14 L167.82,190.45 L168.05,190.76 L168.28,191.08 L168.50,191.40 L168.73,191.71 L168.96,192.03 L169.18,192.34 L169.41,192.65 L169.64,192.95 L169.86,193.24 L170.09,193.52 L170.32,193.79 L170.55,194.04 L170.77,194.28 L171.00,194.51 L171.23,194.74 L171.45,194.97 L171.68,195.19 L171.91,195.41 L172.13,195.63 L172.36,195.84 L172.59,196.06 L172.81,196.27 L173.04,196.47 L173.27,196.67 L173.49,196.87 L173.72,197.07 L173.95,197.26 L174.17,197.45 L174.40,197.64 L174.63,197.82 L174.85,198.00 L175.08,198.17 L175.31,198.34 L175.53,198.51 L175.76,198.67 L175.99,198.83 L176.22,198.98 L176.44,199.13 L176.67,199.28 L176.90,199.41 L177.12,199.55 L177.35,199.68 L177.58,199.81 L177.80,199.93 L178.03,200.04 L178.26,200.16 L178.48,200.27 L178.71,200.38 L178.94,200.49 L179.16,200.59 L179.39,200.69 L179.62,200.79 L179.84,200.89 L180.07,200.99 L180.30,201.08 L180.52,201.17 L180.75,201.26 L180.98,201.35 L181.20,201.44 L181.43,201.53 L181.66,201.61 L181.89,201.69 L182.11,201.78 L182.34,201.86 L182.57,201.94 L182.79,202.02 L183.02,202.09 L183.25,202.17 L183.47,202.25 L183.70,202.32 L183.93,202.40 L184.15,202.47 L184.38,202.54 L184.61,202.62 L184.83,202.69 L185.06,202.76 L185.29,202.84 L185.51,202.91 L185.74,202.98 L185.97,203.05 L186.19,203.13 L186.42,203.20 L186.65,203.27 L186.87,203.35 L187.10,203.42 L187.33,203.50 L187.56,203.58 L187.78,203.66 L188.01,203.74 L188.24,203.82 L188.46,203.90 L188.69,203.98 L188.92,204.06 L189.14,204.14 L189.37,204.22 L189.60,204.30 L189.82,204.39 L190.05,204.47 L190.28,204.55 L190.50,204.63 L190.73,204.70 L190.96,204.78 L191.18,204.86 L191.41,204.93 L191.64,205.01 L191.86,205.08 L192.09,205.15 L192.32,205.22 L192.54,205.28 L192.77,205.35 L193.00,205.41 L193.23,205.47 L193.45,205.53 L193.68,205.58 L193.91,205.63 L194.13,205.68 L194.36,205.72 L194.59,205.76 L194.81,205.80 L195.04,205.84 L195.27,205.87 L195.49,205.89 L195.72,205.92 L195.95,205.94 L196.17,205.96 L196.40,205.98 L196.63,205.99 L196.85,206.01 L197.08,206.03 L197.31,206.05 L197.53,206.07 L197.76,206.09 L197.99,206.10 L198.21,206.12 L198.44,206.14 L198.67,206.15 L198.90,206.17 L199.12,206.19 L199.35,206.20 L199.58,206.22 L199.80,206.23 L200.03,206.24 L200.26,206.26 L200.48,206.27 L200.71,206.28 L200.94,206.29 L201.16,206.30 L201.39,206.31 L201.62,206.32 L201.84,206.33 L202.07,206.34 L202.30,206.35 L202.52,206.36 L202.75,206.36 L202.98,206.37 L203.20,206.38 L203.43,206.38 L203.66,206.39 L203.88,206.39 L204.11,206.39 L204.34,206.39 L204.57,206.39 L204.79,206.39 L205.02,206.39 L205.25,206.39 L205.47,206.39 L205.70,206.39 L205.93,206.39 L206.15,206.39 L206.38,206.39 L206.61,206.39 L206.83,206.39 L207.06,206.39 L207.29,206.39 L207.51,206.39 L207.74,206.39 L207.97,206.39 L208.19,206.39 L208.42,206.39 L208.65,206.39 L208.87,206.39 L209.10,206.39 L209.33,206.39 L209.55,206.39 L209.78,206.39 L210.01,206.39 L210.24,206.39 L210.46,206.39 L210.69,206.39 L210.92,206.39 L211.14,206.39 L211.37,206.39 L211.60,206.39 L211.82,206.39 L212.05,206.39 L212.28,206.39 L212.50,206.39 L212.73,206.39 L212.96,206.39 L213.18,206.39 L213.41,206.39 L213.64,206.39 L213.86,206.39 L214.09,206.39 L214.32,206.39 L214.54,206.39 L214.77,206.39 L215.00,206.39 L215.22,206.39 L215.45,206.39 L215.68,206.39 L215.91,206.39 L216.13,206.39 L216.36,206.39 L216.59,206.39 L216.81,206.39 L217.04,206.39 L217.27,206.39 L217.49,206.39 L217.72,206.39 L217.95,206.39 L218.17,206.39 L218.40,206.39 L218.63,206.39 L218.85,206.39 L219.08,206.39 L219.31,206.39 L219.53,206.39 L219.76,206.39 L219.99,206.39 L220.21,206.39 L220.44,206.39 L220.67,206.39 L220.89,206.39 L221.12,206.39 L221.35,206.39 L221.58,206.39 L221.80,206.39 L222.03,206.39 L222.26,206.39 L222.48,206.39 L222.71,206.39 L222.94,206.39 L223.16,206.39 L223.39,206.39 L223.62,206.39 L223.84,206.39 L224.07,206.39 L224.30,206.39 L224.52,206.39 L224.75,206.39 L224.98,206.39 L225.20,206.39 L225.43,206.39 L225.66,206.39 L225.88,206.39 L226.11,206.39 L226.34,206.39 L226.56,206.39 L226.79,206.39 L227.02,206.39 L227.25,206.39 L227.47,206.39 L227.70,206.39 L227.93,206.39 L228.15,206.39 L228.38,206.39 L228.61,206.39 L228.83,206.39 L229.06,206.39 L229.29,206.39 L229.51,206.39 L229.74,206.39 L229.97,206.39 L230.19,206.39 L230.42,206.39 L230.65,206.39 L230.87,206.39 L231.10,206.39 L231.33,206.39 L231.55,206.39 L231.78,206.39 L232.01,206.39 L232.23,206.39 L232.46,206.39 L232.69,206.39 L232.92,206.39 L233.14,206.39 L233.37,206.39 L233.60,206.39 L233.82,206.39 L234.05,206.39 L234.28,206.39 L234.50,206.39 L234.73,206.39 L234.96,206.39 L235.18,206.39 L235.41,206.39 L235.64,206.39 L235.86,206.39 L236.09,206.39 L236.32,206.39 L236.54,206.39 L236.77,206.39 L237.00,206.39 L237.22,206.39 L237.45,206.39 L237.68,206.39 L237.90,206.39 L238.13,206.39 L238.36,206.39 L238.59,206.39 L238.81,206.39 L239.04,206.39 L239.27,206.39 L239.49,206.39 L239.72,206.39 L239.95,206.39 L240.17,206.39 L240.40,206.39 L240.63,206.39 L240.85,206.39 L241.08,206.39 L241.31,206.39 L241.53,206.39 L241.76,206.39 L241.99,206.39 L242.21,206.39 L242.44,206.39 L242.67,206.39 L242.89,206.39 L243.12,206.39 L243.35,206.39 L243.57,206.39 L243.80,206.39 L244.03,206.39 L244.26,206.39 L244.48,206.39 L244.71,206.39 L244.94,206.39 L245.16,206.39 L245.39,206.39 L245.62,206.39 L245.84,206.39 L246.07,206.39 L246.30,206.39 L246.52,206.39 L246.75,206.39 L246.98,206.39 L247.20,206.39 L247.43,206.39 L247.66,206.39 L247.88,206.39 L248.11,206.39 L248.34,206.39 L248.56,206.39 L248.79,206.39 L249.02,206.39 L249.24,206.39 L249.47,206.39 L249.70,206.39 L249.93,206.39 L250.15,206.39 L250.38,206.39 L250.61,206.39 L250.83,206.39 L251.06,206.39 L251.29,206.39 L251.51,206.39 L251.74,206.39 L251.97,206.39 L252.19,206.39 L252.42,206.39 L252.65,206.39 L252.87,206.39 L253.10,206.39 L253.33,206.39 L253.55,206.39 L253.78,206.39 L254.01,206.39 L254.23,206.39 L254.46,206.39 L254.69,206.39 L254.91,206.39 L255.14,206.39 L255.37,206.39 L255.60,206.39 L255.82,206.39 L256.05,206.39 L256.28,206.39 L256.50,206.39 L256.73,206.39 L256.96,206.39 L257.18,206.39 L257.41,206.39 L257.64,206.39 L257.86,206.39 L258.09,206.39 L258.32,206.39 L258.54,206.39 L258.77,206.39 L259.00,206.39 L259.22,206.39 L259.45,206.39 L259.68,206.39 L259.90,206.39 L260.13,206.39 L260.36,206.39 L260.58,206.39 L260.81,206.39 L261.04,206.39 L261.27,206.39 L261.49,206.39 L261.72,206.39 L261.95,206.39 L262.17,206.39 L262.40,206.39 L262.63,206.39 L262.85,206.39 L263.08,206.39 L263.31,206.39 L263.53,206.39 L263.76,206.39 L263.99,206.39 L264.21,206.39 L264.44,206.39 L264.67,206.39 L264.89,206.39 L265.12,206.39 L265.35,206.39 L265.57,206.39 L265.80,206.39 L266.03,206.39 L266.25,206.39 L266.48,206.39 L266.71,206.39 L266.94,206.39 L267.16,206.39 L267.39,206.39 L267.62,206.39 L267.84,206.39 L268.07,206.39 L268.30,206.39 L268.52,206.39 L268.75,206.39 L268.98,206.39 L269.20,206.39 L269.43,206.39 L269.66,206.39 L269.88,206.39 L270.11,206.39 L270.34,206.39 L270.56,206.39 L270.79,206.39 L271.02,206.39 L271.24,206.39 L271.47,206.39 L271.70,206.39 L271.92,206.39 L272.15,206.39 L272.38,206.39 L272.61,206.39 L272.83,206.39 L273.06,206.39 L273.29,206.39 L273.51,206.39 L273.74,206.39 L273.97,206.39 L274.19,206.39 L274.42,206.39 L274.65,206.39 L274.87,206.39 L275.10,206.39 L275.33,206.39 L275.55,206.39 L275.78,206.39 L276.01,206.39 L276.23,206.39 L276.46,206.39 L276.69,206.39 L276.91,206.39 L277.14,206.39 L277.37,206.39 L277.59,206.39 L277.82,206.39 L278.05,206.39 L278.28,206.39 L278.50,206.39 L278.73,206.39 L278.96,206.39 L279.18,206.39 L279.41,206.39 L279.64,206.39 L279.86,206.39 L280.09,206.39 L280.32,206.39 L280.54,206.39 L280.77,206.39 L281.00,206.39 L281.22,206.39 L281.45,206.39 L281.68,206.39 L281.90,206.39 L282.13,206.39 L282.36,206.39 L282.58,206.39 L282.81,206.39 L283.04,206.39 L283.26,206.39 L283.49,206.39 L283.72,206.39 L283.95,206.39 L284.17,206.39 L284.40,206.39 L284.63,206.39 L284.85,206.39 L285.08,206.39 L285.31,206.39 L285.53,206.39 L285.76,206.39 L285.99,206.39 L286.21,206.39 L286.44,206.39 L286.67,206.39 L286.89,206.39 L287.12,206.39 L287.35,206.39 L287.57,206.39 L287.80,206.39 L288.03,206.39 L288.25,206.39 L288.48,206.39 L288.71,206.39 L288.93,206.39 L289.16,206.39 L289.39,206.39 L289.62,206.39 L289.84,206.39 L290.07,206.39 L290.30,206.39 L290.52,206.39 L290.75,206.39 L290.98,206.39 L291.20,206.39 L291.43,206.39 L291.66,206.39 L291.88,206.39 L292.11,206.39 L292.34,206.39 L292.56,206.39 L292.79,206.39 L293.02,206.39 L293.24,206.39 L293.47,206.39 L293.70,206.39 L293.92,206.39 L294.15,206.39 L294.38,206.39 L294.60,206.39 L294.83,206.39 L295.06,206.39 L295.29,206.39 L295.51,206.39 L295.74,206.39 L295.97,206.39 L296.19,206.39 L296.42,206.39 L296.65,206.39 L296.87,206.39 L297.10,206.39 L297.33,206.39 L297.55,206.39 L297.78,206.39" fill="none" stroke="#000" stroke-width="1.9" stroke-dasharray="6.8 2.8"/><path d="M48.30,206.26 L48.53,206.25 L48.75,206.25 L48.98,206.25 L49.21,206.24 L49.43,206.24 L49.66,206.23 L49.89,206.23 L50.11,206.22 L50.34,206.22 L50.57,206.21 L50.79,206.21 L51.02,206.20 L51.25,206.19 L51.48,206.19 L51.70,206.18 L51.93,206.18 L52.16,206.17 L52.38,206.17 L52.61,206.16 L52.84,206.15 L53.06,206.15 L53.29,206.14 L53.52,206.13 L53.74,206.13 L53.97,206.12 L54.20,206.11 L54.42,206.11 L54.65,206.10 L54.88,206.09 L55.10,206.09 L55.33,206.08 L55.56,206.07 L55.78,206.07 L56.01,206.06 L56.24,206.06 L56.46,206.05 L56.69,206.04 L56.92,206.04 L57.15,206.03 L57.37,206.02 L57.60,206.02 L57.83,206.01 L58.05,206.00 L58.28,205.99 L58.51,205.98 L58.73,205.97 L58.96,205.96 L59.19,205.94 L59.41,205.93 L59.64,205.92 L59.87,205.90 L60.09,205.87 L60.32,205.83 L60.55,205.78 L60.77,205.73 L61.00,205.67 L61.23,205.61 L61.45,205.54 L61.68,205.47 L61.91,205.39 L62.13,205.31 L62.36,205.23 L62.59,205.14 L62.82,205.03 L63.04,204.91 L63.27,204.78 L63.50,204.64 L63.72,204.48 L63.95,204.32 L64.18,204.14 L64.40,203.96 L64.63,203.77 L64.86,203.58 L65.08,203.38 L65.31,203.18 L65.54,202.96 L65.76,202.71 L65.99,202.45 L66.22,202.16 L66.44,201.87 L66.67,201.57 L66.90,201.26 L67.12,200.95 L67.35,200.66 L67.58,200.37 L67.80,200.10 L68.03,199.84 L68.26,199.60 L68.49,199.37 L68.71,199.14 L68.94,198.92 L69.17,198.70 L69.39,198.48 L69.62,198.25 L69.85,198.02 L70.07,197.78 L70.30,197.53 L70.53,197.26 L70.75,196.98 L70.98,196.68 L71.21,196.35 L71.43,195.98 L71.66,195.59 L71.89,195.18 L72.11,194.74 L72.34,194.30 L72.57,193.84 L72.79,193.39 L73.02,192.94 L73.25,192.49 L73.47,192.06 L73.70,191.64 L73.93,191.23 L74.16,190.82 L74.38,190.43 L74.61,190.03 L74.84,189.64 L75.06,189.25 L75.29,188.86 L75.52,188.46 L75.74,188.06 L75.97,187.65 L76.20,187.23 L76.42,186.80 L76.65,186.35 L76.88,185.89 L77.10,185.41 L77.33,184.91 L77.56,184.39 L77.78,183.84 L78.01,183.26 L78.24,182.63 L78.46,181.96 L78.69,181.25 L78.92,180.52 L79.14,179.75 L79.37,178.97 L79.60,178.17 L79.83,177.37 L80.05,176.56 L80.28,175.75 L80.51,174.95 L80.73,174.15 L80.96,173.36 L81.19,172.56 L81.41,171.75 L81.64,170.92 L81.87,170.07 L82.09,169.20 L82.32,168.30 L82.55,167.37 L82.77,166.39 L83.00,165.36 L83.23,164.26 L83.45,163.11 L83.68,161.92 L83.91,160.70 L84.13,159.46 L84.36,158.22 L84.59,156.98 L84.81,155.75 L85.04,154.51 L85.27,153.26 L85.50,151.99 L85.72,150.71 L85.95,149.40 L86.18,148.07 L86.40,146.72 L86.63,145.33 L86.86,143.91 L87.08,142.47 L87.31,141.00 L87.54,139.50 L87.76,137.98 L87.99,136.45 L88.22,134.90 L88.44,133.34 L88.67,131.77 L88.90,130.18 L89.12,128.58 L89.35,126.97 L89.58,125.34 L89.80,123.71 L90.03,122.05 L90.26,120.38 L90.48,118.69 L90.71,116.99 L90.94,115.27 L91.17,113.54 L91.39,111.78 L91.62,110.01 L91.85,108.22 L92.07,106.39 L92.30,104.50 L92.53,102.58 L92.75,100.62 L92.98,98.64 L93.21,96.64 L93.43,94.64 L93.66,92.66 L93.89,90.68 L94.11,88.74 L94.34,86.83 L94.57,84.95 L94.79,83.08 L95.02,81.22 L95.25,79.37 L95.47,77.52 L95.70,75.69 L95.93,73.86 L96.15,72.04 L96.38,70.23 L96.61,68.42 L96.84,66.62 L97.06,64.82 L97.29,63.03 L97.52,61.24 L97.74,59.45 L97.97,57.64 L98.20,55.76 L98.42,53.84 L98.65,51.90 L98.88,49.95 L99.10,48.00 L99.33,46.07 L99.56,44.18 L99.78,42.34 L100.01,40.57 L100.24,38.88 L100.46,37.29 L100.69,35.82 L100.92,34.47 L101.14,33.28 L101.37,32.17 L101.60,31.09 L101.82,30.06 L102.05,29.06 L102.28,28.11 L102.51,27.21 L102.73,26.37 L102.96,25.59 L103.19,24.88 L103.41,24.23 L103.64,23.67 L103.87,23.18 L104.09,22.73 L104.32,22.29 L104.55,21.87 L104.77,21.51 L105.00,21.22 L105.23,21.03 L105.45,20.96 L105.68,20.99 L105.91,21.10 L106.13,21.27 L106.36,21.48 L106.59,21.74 L106.81,22.03 L107.04,22.34 L107.27,22.67 L107.49,23.05 L107.72,23.55 L107.95,24.15 L108.18,24.84 L108.40,25.62 L108.63,26.48 L108.86,27.41 L109.08,28.41 L109.31,29.47 L109.54,30.58 L109.76,31.74 L109.99,32.93 L110.22,34.26 L110.44,35.79 L110.67,37.52 L110.90,39.41 L111.12,41.45 L111.35,43.62 L111.58,45.88 L111.80,48.22 L112.03,50.62 L112.26,53.05 L112.48,55.49 L112.71,57.92 L112.94,60.31 L113.16,62.74 L113.39,65.28 L113.62,67.90 L113.85,70.58 L114.07,73.30 L114.30,76.05 L114.53,78.79 L114.75,81.53 L114.98,84.28 L115.21,87.06 L115.43,89.84 L115.66,92.65 L115.89,95.48 L116.11,98.33 L116.34,101.20 L116.57,104.09 L116.79,107.01 L117.02,109.95 L117.25,112.92 L117.47,115.92 L117.70,119.02 L117.93,122.29 L118.15,125.66 L118.38,129.10 L118.61,132.55 L118.83,135.97 L119.06,139.30 L119.29,142.50 L119.52,145.52 L119.74,148.31 L119.97,150.82 L120.20,153.24 L120.42,155.74 L120.65,158.27 L120.88,160.79 L121.10,163.25 L121.33,165.60 L121.56,167.79 L121.78,169.78 L122.01,171.51 L122.24,172.94 L122.46,174.02 L122.69,174.71 L122.92,174.95 L123.14,174.74 L123.37,174.13 L123.60,173.18 L123.82,171.92 L124.05,170.41 L124.28,168.68 L124.50,166.78 L124.73,164.75 L124.96,162.64 L125.19,160.50 L125.41,158.37 L125.64,156.29 L125.87,154.31 L126.09,152.47 L126.32,150.82 L126.55,149.27 L126.77,147.72 L127.00,146.16 L127.23,144.60 L127.45,143.04 L127.68,141.48 L127.91,139.93 L128.13,138.39 L128.36,136.86 L128.59,135.34 L128.81,133.84 L129.04,132.36 L129.27,130.90 L129.49,129.47 L129.72,128.06 L129.95,126.68 L130.17,125.34 L130.40,124.03 L130.63,122.76 L130.86,121.49 L131.08,120.20 L131.31,118.91 L131.54,117.63 L131.76,116.40 L131.99,115.23 L132.22,114.15 L132.44,113.18 L132.67,112.33 L132.90,111.64 L133.12,111.03 L133.35,110.42 L133.58,109.83 L133.80,109.27 L134.03,108.73 L134.26,108.24 L134.48,107.80 L134.71,107.42 L134.94,107.11 L135.16,106.88 L135.39,106.73 L135.62,106.68 L135.84,106.72 L136.07,106.86 L136.30,107.06 L136.53,107.34 L136.75,107.67 L136.98,108.05 L137.21,108.46 L137.43,108.91 L137.66,109.37 L137.89,109.85 L138.11,110.32 L138.34,110.78 L138.57,111.27 L138.79,111.80 L139.02,112.39 L139.25,113.02 L139.47,113.69 L139.70,114.40 L139.93,115.14 L140.15,115.92 L140.38,116.74 L140.61,117.64 L140.83,118.61 L141.06,119.64 L141.29,120.71 L141.51,121.83 L141.74,122.99 L141.97,124.17 L142.20,125.37 L142.42,126.58 L142.65,127.80 L142.88,129.01 L143.10,130.21 L143.33,131.39 L143.56,132.55 L143.78,133.66 L144.01,134.74 L144.24,135.80 L144.46,136.87 L144.69,137.96 L144.92,139.05 L145.14,140.15 L145.37,141.25 L145.60,142.34 L145.82,143.42 L146.05,144.48 L146.28,145.53 L146.50,146.55 L146.73,147.55 L146.96,148.51 L147.18,149.44 L147.41,150.33 L147.64,151.17 L147.87,151.96 L148.09,152.70 L148.32,153.40 L148.55,154.07 L148.77,154.72 L149.00,155.35 L149.23,155.95 L149.45,156.53 L149.68,157.09 L149.91,157.63 L150.13,158.15 L150.36,158.65 L150.59,159.14 L150.81,159.61 L151.04,160.06 L151.27,160.50 L151.49,160.90 L151.72,161.29 L151.95,161.67 L152.17,162.03 L152.40,162.38 L152.63,162.74 L152.85,163.09 L153.08,163.45 L153.31,163.82 L153.54,164.21 L153.76,164.59 L153.99,164.98 L154.22,165.37 L154.44,165.76 L154.67,166.15 L154.90,166.54 L155.12,166.93 L155.35,167.32 L155.58,167.71 L155.80,168.09 L156.03,168.48 L156.26,168.86 L156.48,169.23 L156.71,169.60 L156.94,169.97 L157.16,170.33 L157.39,170.68 L157.62,171.03 L157.84,171.37 L158.07,171.70 L158.30,172.03 L158.52,172.36 L158.75,172.68 L158.98,173.01 L159.21,173.33 L159.43,173.65 L159.66,173.97 L159.89,174.29 L160.11,174.62 L160.34,174.95 L160.57,175.28 L160.79,175.61 L161.02,175.96 L161.25,176.30 L161.47,176.66 L161.70,177.02 L161.93,177.38 L162.15,177.75 L162.38,178.12 L162.61,178.49 L162.83,178.87 L163.06,179.25 L163.29,179.64 L163.51,180.02 L163.74,180.41 L163.97,180.80 L164.19,181.20 L164.42,181.59 L164.65,181.99 L164.88,182.39 L165.10,182.80 L165.33,183.20 L165.56,183.61 L165.78,184.01 L166.01,184.43 L166.24,184.85 L166.46,185.28 L166.69,185.71 L166.92,186.15 L167.14,186.59 L167.37,187.04 L167.60,187.49 L167.82,187.93 L168.05,188.38 L168.28,188.83 L168.50,189.27 L168.73,189.71 L168.96,190.15 L169.18,190.58 L169.41,191.00 L169.64,191.42 L169.86,191.83 L170.09,192.23 L170.32,192.63 L170.55,193.03 L170.77,193.44 L171.00,193.85 L171.23,194.27 L171.45,194.68 L171.68,195.09 L171.91,195.49 L172.13,195.89 L172.36,196.27 L172.59,196.64 L172.81,197.00 L173.04,197.34 L173.27,197.67 L173.49,197.97 L173.72,198.25 L173.95,198.50 L174.17,198.73 L174.40,198.94 L174.63,199.15 L174.85,199.36 L175.08,199.56 L175.31,199.76 L175.53,199.95 L175.76,200.14 L175.99,200.31 L176.22,200.48 L176.44,200.64 L176.67,200.78 L176.90,200.91 L177.12,201.02 L177.35,201.12 L177.58,201.19 L177.80,201.26 L178.03,201.30 L178.26,201.32 L178.48,201.35 L178.71,201.37 L178.94,201.39 L179.16,201.41 L179.39,201.43 L179.62,201.44 L179.84,201.45 L180.07,201.47 L180.30,201.48 L180.52,201.49 L180.75,201.50 L180.98,201.51 L181.20,201.52 L181.43,201.53 L181.66,201.55 L181.89,201.56 L182.11,201.58 L182.34,201.60 L182.57,201.62 L182.79,201.64 L183.02,201.66 L183.25,201.69 L183.47,201.72 L183.70,201.75 L183.93,201.79 L184.15,201.82 L184.38,201.86 L184.61,201.90 L184.83,201.95 L185.06,201.99 L185.29,202.04 L185.51,202.09 L185.74,202.14 L185.97,202.19 L186.19,202.25 L186.42,202.31 L186.65,202.37 L186.87,202.43 L187.10,202.49 L187.33,202.57 L187.56,202.65 L187.78,202.74 L188.01,202.85 L188.24,202.96 L188.46,203.08 L188.69,203.21 L188.92,203.34 L189.14,203.47 L189.37,203.61 L189.60,203.74 L189.82,203.87 L190.05,204.00 L190.28,204.12 L190.50,204.24 L190.73,204.35 L190.96,204.46 L191.18,204.55 L191.41,204.63 L191.64,204.72 L191.86,204.82 L192.09,204.91 L192.32,205.00 L192.54,205.10 L192.77,205.19 L193.00,205.28 L193.23,205.36 L193.45,205.45 L193.68,205.52 L193.91,205.60 L194.13,205.67 L194.36,205.73 L194.59,205.78 L194.81,205.83 L195.04,205.87 L195.27,205.89 L195.49,205.91 L195.72,205.92 L195.95,205.91 L196.17,205.88 L196.40,205.84 L196.63,205.79 L196.85,205.73 L197.08,205.66 L197.31,205.58 L197.53,205.50 L197.76,205.41 L197.99,205.32 L198.21,205.23 L198.44,205.14 L198.67,205.05 L198.90,204.97 L199.12,204.89 L199.35,204.81 L199.58,204.72 L199.80,204.63 L200.03,204.52 L200.26,204.42 L200.48,204.31 L200.71,204.20 L200.94,204.10 L201.16,204.00 L201.39,203.90 L201.62,203.81 L201.84,203.73 L202.07,203.66 L202.30,203.60 L202.52,203.56 L202.75,203.53 L202.98,203.52 L203.20,203.52 L203.43,203.53 L203.66,203.54 L203.88,203.56 L204.11,203.58 L204.34,203.60 L204.57,203.63 L204.79,203.66 L205.02,203.69 L205.25,203.72 L205.47,203.76 L205.70,203.80 L205.93,203.84 L206.15,203.88 L206.38,203.92 L206.61,203.96 L206.83,203.99 L207.06,204.03 L207.29,204.08 L207.51,204.13 L207.74,204.19 L207.97,204.26 L208.19,204.33 L208.42,204.40 L208.65,204.48 L208.87,204.55 L209.10,204.62 L209.33,204.68 L209.55,204.74 L209.78,204.80 L210.01,204.84 L210.24,204.87 L210.46,204.89 L210.69,204.90 L210.92,204.91 L211.14,204.92 L211.37,204.93 L211.60,204.94 L211.82,204.95 L212.05,204.96 L212.28,204.97 L212.50,204.98 L212.73,204.98 L212.96,204.99 L213.18,205.00 L213.41,205.01 L213.64,205.01 L213.86,205.02 L214.09,205.02 L214.32,205.03 L214.54,205.03 L214.77,205.04 L215.00,205.04 L215.22,205.04 L215.45,205.05 L215.68,205.05 L215.91,205.05 L216.13,205.06 L216.36,205.06 L216.59,205.06 L216.81,205.06 L217.04,205.06 L217.27,205.06 L217.49,205.06 L217.72,205.06 L217.95,205.06 L218.17,205.05 L218.40,205.05 L218.63,205.04 L218.85,205.04 L219.08,205.03 L219.31,205.02 L219.53,205.02 L219.76,205.01 L219.99,205.00 L220.21,204.99 L220.44,204.98 L220.67,204.97 L220.89,204.96 L221.12,204.94 L221.35,204.93 L221.58,204.92 L221.80,204.91 L222.03,204.89 L222.26,204.88 L222.48,204.87 L222.71,204.85 L222.94,204.84 L223.16,204.82 L223.39,204.81 L223.62,204.79 L223.84,204.78 L224.07,204.76 L224.30,204.75 L224.52,204.73 L224.75,204.72 L224.98,204.70 L225.20,204.68 L225.43,204.66 L225.66,204.64 L225.88,204.61 L226.11,204.59 L226.34,204.56 L226.56,204.53 L226.79,204.49 L227.02,204.46 L227.25,204.43 L227.47,204.39 L227.70,204.36 L227.93,204.32 L228.15,204.28 L228.38,204.25 L228.61,204.21 L228.83,204.17 L229.06,204.13 L229.29,204.10 L229.51,204.06 L229.74,204.03 L229.97,203.99 L230.19,203.96 L230.42,203.93 L230.65,203.90 L230.87,203.87 L231.10,203.84 L231.33,203.81 L231.55,203.79 L231.78,203.77 L232.01,203.75 L232.23,203.73 L232.46,203.72 L232.69,203.71 L232.92,203.70 L233.14,203.69 L233.37,203.69 L233.60,203.69 L233.82,203.70 L234.05,203.72 L234.28,203.74 L234.50,203.77 L234.73,203.80 L234.96,203.83 L235.18,203.87 L235.41,203.91 L235.64,203.95 L235.86,204.00 L236.09,204.05 L236.32,204.10 L236.54,204.16 L236.77,204.21 L237.00,204.26 L237.22,204.32 L237.45,204.37 L237.68,204.43 L237.90,204.48 L238.13,204.53 L238.36,204.58 L238.59,204.63 L238.81,204.67 L239.04,204.71 L239.27,204.75 L239.49,204.78 L239.72,204.81 L239.95,204.84 L240.17,204.86 L240.40,204.88 L240.63,204.89 L240.85,204.89 L241.08,204.89 L241.31,204.89 L241.53,204.88 L241.76,204.88 L241.99,204.87 L242.21,204.86 L242.44,204.85 L242.67,204.84 L242.89,204.83 L243.12,204.82 L243.35,204.81 L243.57,204.80 L243.80,204.78 L244.03,204.77 L244.26,204.75 L244.48,204.73 L244.71,204.72 L244.94,204.70 L245.16,204.68 L245.39,204.67 L245.62,204.65 L245.84,204.63 L246.07,204.61 L246.30,204.60 L246.52,204.58 L246.75,204.56 L246.98,204.55 L247.20,204.53 L247.43,204.51 L247.66,204.50 L247.88,204.48 L248.11,204.47 L248.34,204.46 L248.56,204.44 L248.79,204.43 L249.02,204.42 L249.24,204.41 L249.47,204.40 L249.70,204.39 L249.93,204.39 L250.15,204.38 L250.38,204.38 L250.61,204.38 L250.83,204.38 L251.06,204.38 L251.29,204.38 L251.51,204.39 L251.74,204.40 L251.97,204.41 L252.19,204.43 L252.42,204.44 L252.65,204.46 L252.87,204.48 L253.10,204.50 L253.33,204.53 L253.55,204.55 L253.78,204.58 L254.01,204.61 L254.23,204.64 L254.46,204.66 L254.69,204.69 L254.91,204.73 L255.14,204.76 L255.37,204.79 L255.60,204.82 L255.82,204.85 L256.05,204.88 L256.28,204.91 L256.50,204.94 L256.73,204.97 L256.96,205.00 L257.18,205.03 L257.41,205.05 L257.64,205.08 L257.86,205.10 L258.09,205.13 L258.32,205.15 L258.54,205.16 L258.77,205.18 L259.00,205.20 L259.22,205.21 L259.45,205.22 L259.68,205.23 L259.90,205.23 L260.13,205.23 L260.36,205.23 L260.58,205.23 L260.81,205.22 L261.04,205.21 L261.27,205.20 L261.49,205.18 L261.72,205.16 L261.95,205.14 L262.17,205.12 L262.40,205.10 L262.63,205.08 L262.85,205.05 L263.08,205.03 L263.31,205.00 L263.53,204.97 L263.76,204.95 L263.99,204.92 L264.21,204.89 L264.44,204.86 L264.67,204.83 L264.89,204.80 L265.12,204.78 L265.35,204.75 L265.57,204.72 L265.80,204.70 L266.03,204.68 L266.25,204.65 L266.48,204.63 L266.71,204.61 L266.94,204.60 L267.16,204.58 L267.39,204.57 L267.62,204.56 L267.84,204.55 L268.07,204.55 L268.30,204.55 L268.52,204.55 L268.75,204.55 L268.98,204.55 L269.20,204.56 L269.43,204.57 L269.66,204.58 L269.88,204.59 L270.11,204.60 L270.34,204.61 L270.56,204.62 L270.79,204.64 L271.02,204.65 L271.24,204.67 L271.47,204.68 L271.70,204.70 L271.92,204.72 L272.15,204.73 L272.38,204.75 L272.61,204.77 L272.83,204.79 L273.06,204.80 L273.29,204.82 L273.51,204.84 L273.74,204.85 L273.97,204.87 L274.19,204.88 L274.42,204.90 L274.65,204.91 L274.87,204.92 L275.10,204.93 L275.33,204.94 L275.55,204.95 L275.78,204.96 L276.01,204.97 L276.23,204.97 L276.46,204.97 L276.69,204.97 L276.91,204.97 L277.14,204.97 L277.37,204.97 L277.59,204.96 L277.82,204.96 L278.05,204.95 L278.28,204.94 L278.50,204.93 L278.73,204.93 L278.96,204.92 L279.18,204.90 L279.41,204.89 L279.64,204.88 L279.86,204.87 L280.09,204.86 L280.32,204.85 L280.54,204.83 L280.77,204.82 L281.00,204.81 L281.22,204.80 L281.45,204.79 L281.68,204.78 L281.90,204.77 L282.13,204.76 L282.36,204.75 L282.58,204.74 L282.81,204.73 L283.04,204.73 L283.26,204.72 L283.49,204.72 L283.72,204.72 L283.95,204.72 L284.17,204.72 L284.40,204.72 L284.63,204.73 L284.85,204.74 L285.08,204.75 L285.31,204.77 L285.53,204.78 L285.76,204.80 L285.99,204.82 L286.21,204.84 L286.44,204.86 L286.67,204.89 L286.89,204.91 L287.12,204.94 L287.35,204.96 L287.57,204.99 L287.80,205.02 L288.03,205.05 L288.25,205.07 L288.48,205.10 L288.71,205.13 L288.93,205.16 L289.16,205.18 L289.39,205.21 L289.62,205.23 L289.84,205.26 L290.07,205.28 L290.30,205.30 L290.52,205.32 L290.75,205.34 L290.98,205.35 L291.20,205.37 L291.43,205.38 L291.66,205.39 L291.88,205.40 L292.11,205.40 L292.34,205.40 L292.56,205.40 L292.79,205.40 L293.02,205.40 L293.24,205.39 L293.47,205.39 L293.70,205.38 L293.92,205.37 L294.15,205.36 L294.38,205.35 L294.60,205.34 L294.83,205.33 L295.06,205.31 L295.29,205.30 L295.51,205.28 L295.74,205.26 L295.97,205.25 L296.19,205.23 L296.42,205.21 L296.65,205.18 L296.87,205.16 L297.10,205.14 L297.33,205.11 L297.55,205.09 L297.78,205.06" fill="none" stroke="#000" stroke-width="1.95" stroke-linejoin="round"/><g stroke="#222" stroke-width="1.3" fill="none"><path d="M36,5.3 H310.5 V215.7 H36 Z"/><line x1="36" y1="206.60" x2="38" y2="206.60"/><line x1="36" y1="172.38" x2="38" y2="172.38"/><line x1="36" y1="138.16" x2="38" y2="138.16"/><line x1="36" y1="103.94" x2="38" y2="103.94"/><line x1="36" y1="69.72" x2="38" y2="69.72"/><line x1="36" y1="35.50" x2="38" y2="35.50"/><line x1="48.30" y1="215.7" x2="48.30" y2="213.7"/><line x1="93.66" y1="215.7" x2="93.66" y2="213.7"/><line x1="139.02" y1="215.7" x2="139.02" y2="213.7"/><line x1="184.38" y1="215.7" x2="184.38" y2="213.7"/><line x1="229.74" y1="215.7" x2="229.74" y2="213.7"/><line x1="275.10" y1="215.7" x2="275.10" y2="213.7"/><line x1="310.5" y1="212.80" x2="308.5" y2="212.80"/><line x1="310.5" y1="186.47" x2="308.5" y2="186.47"/><line x1="310.5" y1="160.14" x2="308.5" y2="160.14"/><line x1="310.5" y1="133.81" x2="308.5" y2="133.81"/><line x1="310.5" y1="107.48" x2="308.5" y2="107.48"/><line x1="310.5" y1="81.15" x2="308.5" y2="81.15"/><line x1="310.5" y1="54.82" x2="308.5" y2="54.82"/><line x1="310.5" y1="28.49" x2="308.5" y2="28.49"/></g><g font-size="12.2" fill="#333" text-anchor="end"><text x="31" y="210.50">0</text><text x="31" y="176.28">2</text><text x="31" y="142.06">4</text><text x="31" y="107.84">6</text><text x="31" y="73.62">8</text><text x="31" y="39.40" letter-spacing="-0.7">10</text></g><g font-size="12.2" fill="#333" text-anchor="middle"><text x="48.60" y="229.2">0</text><text x="93.96" y="229.2">2</text><text x="139.32" y="229.2">4</text><text x="184.68" y="229.2">6</text><text x="230.04" y="229.2">8</text><text x="275.40" y="229.2" letter-spacing="-0.7">10</text></g><g font-size="11.2" fill="#999"><text x="316" y="216.60">0.60</text><text x="316" y="190.27">0.65</text><text x="316" y="163.94">0.70</text><text x="316" y="137.61">0.75</text><text x="316" y="111.28">0.80</text><text x="316" y="84.95">0.85</text><text x="316" y="58.62">0.90</text><text x="316" y="32.29">0.95</text></g><text x="173.3" y="243.8" font-size="12.6" fill="#222" text-anchor="middle">Frequency f / MHz</text><text transform="translate(12.4,110.6) rotate(-90)" font-size="12.4" fill="#222" text-anchor="middle">Voltage V / mV</text><text transform="translate(347.1,110.9) rotate(-90)" font-size="12.8" fill="#999" text-anchor="middle">Reflection coefficient |R|</text><text x="175.9" y="267" font-size="16" fill="#000" text-anchor="middle">(<tspan font-weight="bold">a</tspan>)</text><g stroke="#000" stroke-width="1.35" fill="none"><line x1="76.7" y1="65.4" x2="117.8" y2="121.5"/><line x1="163.5" y1="65.5" x2="133.7" y2="97.3"/></g><line x1="229.3" y1="141.2" x2="200.2" y2="167.3" stroke="#888" stroke-width="1.35"/><rect x="44.1" y="45.2" width="43.7" height="19.2" fill="#fff" stroke="#000" stroke-width="2"/><g fill="#000" color="#000" stroke="#000" stroke-width="0.15"><text x="49.34" y="59.00" font-family="'DejaVu Math TeX Gyre', 'DejaVu Sans', sans-serif" font-size="13.2" stroke-width="0.35" stroke="currentColor">ℱ</text><text transform="translate(58.99,60.20) scale(0.72,1)" font-family="'Liberation Serif', 'DejaVu Serif', serif" font-size="14.0" >{</text><text x="63.61" y="58.70" font-family="'Liberation Serif', 'DejaVu Serif', serif" font-size="12.6" >u</text><text x="70.36" y="61.80" font-family="'Liberation Serif', 'DejaVu Serif', serif" font-size="8.1" >R</text><text transform="translate(76.59,60.20) scale(0.72,1)" font-family="'Liberation Serif', 'DejaVu Serif', serif" font-size="14.0" >}</text></g><rect x="164.5" y="52.6" width="76.9" height="20" fill="#fff" stroke="#000" stroke-width="2"/><g fill="#000" color="#000" stroke="#000" stroke-width="0.15"><text x="171.60" y="66.80" font-family="'DejaVu Serif', 'Liberation Serif', serif" font-size="11.4" stroke-width="0">≈</text><text x="184.33" y="66.60" font-family="'Liberation Serif', 'DejaVu Serif', serif" font-size="12.6" >g</text><text x="190.83" y="66.80" font-family="'Liberation Serif', 'DejaVu Serif', serif" font-size="12.6" >(</text><text x="195.02" y="66.60" font-family="'Liberation Serif', 'DejaVu Serif', serif" font-size="12.6" >f</text><text x="200.62" y="66.80" font-family="'Liberation Serif', 'DejaVu Serif', serif" font-size="12.6" >)</text><text x="203.24" y="66.90" font-family="'DejaVu Math TeX Gyre', 'DejaVu Sans', sans-serif" font-size="13.2" stroke-width="0.35" stroke="currentColor">ℱ</text><text transform="translate(214.19,68.10) scale(0.72,1)" font-family="'Liberation Serif', 'DejaVu Serif', serif" font-size="14.0" >{</text><text x="219.51" y="66.60" font-family="'Liberation Serif', 'DejaVu Serif', serif" font-size="12.6" >u</text><text x="225.65" y="69.70" font-family="'Liberation Serif', 'DejaVu Serif', serif" font-size="7.3" >i</text><text transform="translate(228.09,68.10) scale(0.72,1)" font-family="'Liberation Serif', 'DejaVu Serif', serif" font-size="14.0" >}</text></g><rect x="230.3" y="122.1" width="27.1" height="21.8" fill="#fff" stroke="#888" stroke-width="2"/><g fill="#888"><text x="234.81" y="137.40" font-family="'Liberation Serif', 'DejaVu Serif', serif" font-size="14.5" stroke="#888" stroke-width="0.45">|</text><text x="239.03" y="137.60" font-family="'Liberation Serif', 'DejaVu Serif', serif" font-size="12.5" >R</text><text x="248.51" y="137.40" font-family="'Liberation Serif', 'DejaVu Serif', serif" font-size="14.5" stroke="#888" stroke-width="0.45">|</text></g><path d="M444.10,207.84 L444.36,207.84 L444.62,207.83 L444.89,207.83 L445.15,207.83 L445.41,207.82 L445.67,207.82 L445.93,207.81 L446.20,207.81 L446.46,207.80 L446.72,207.79 L446.98,207.79 L447.24,207.78 L447.51,207.78 L447.77,207.77 L448.03,207.77 L448.29,207.76 L448.55,207.75 L448.82,207.75 L449.08,207.74 L449.34,207.73 L449.60,207.73 L449.86,207.72 L450.13,207.71 L450.39,207.71 L450.65,207.70 L450.91,207.69 L451.17,207.69 L451.44,207.68 L451.70,207.67 L451.96,207.66 L452.22,207.66 L452.48,207.65 L452.75,207.64 L453.01,207.64 L453.27,207.63 L453.53,207.63 L453.79,207.62 L454.06,207.61 L454.32,207.61 L454.58,207.60 L454.84,207.59 L455.10,207.58 L455.37,207.57 L455.63,207.56 L455.89,207.55 L456.15,207.54 L456.41,207.53 L456.68,207.52 L456.94,207.50 L457.20,207.49 L457.46,207.47 L457.72,207.43 L457.99,207.40 L458.25,207.35 L458.51,207.30 L458.77,207.24 L459.03,207.17 L459.30,207.10 L459.56,207.02 L459.82,206.94 L460.08,206.86 L460.34,206.77 L460.61,206.68 L460.87,206.57 L461.13,206.44 L461.39,206.30 L461.65,206.15 L461.92,205.99 L462.18,205.82 L462.44,205.64 L462.70,205.45 L462.96,205.25 L463.23,205.05 L463.49,204.84 L463.75,204.63 L464.01,204.40 L464.27,204.15 L464.54,203.87 L464.80,203.58 L465.06,203.27 L465.32,202.95 L465.58,202.63 L465.85,202.31 L466.11,202.00 L466.37,201.70 L466.63,201.42 L466.89,201.16 L467.16,200.90 L467.42,200.66 L467.68,200.42 L467.94,200.19 L468.20,199.96 L468.47,199.73 L468.73,199.49 L468.99,199.25 L469.25,199.00 L469.51,198.74 L469.78,198.46 L470.04,198.17 L470.30,197.85 L470.56,197.51 L470.82,197.13 L471.09,196.72 L471.35,196.29 L471.61,195.84 L471.87,195.37 L472.13,194.90 L472.40,194.43 L472.66,193.95 L472.92,193.49 L473.18,193.04 L473.44,192.60 L473.71,192.17 L473.97,191.75 L474.23,191.34 L474.49,190.93 L474.75,190.52 L475.02,190.11 L475.28,189.70 L475.54,189.29 L475.80,188.87 L476.06,188.44 L476.33,188.00 L476.59,187.55 L476.85,187.09 L477.11,186.60 L477.37,186.10 L477.64,185.58 L477.90,185.04 L478.16,184.47 L478.42,183.87 L478.68,183.21 L478.95,182.51 L479.21,181.77 L479.47,181.00 L479.73,180.21 L479.99,179.39 L480.26,178.56 L480.52,177.72 L480.78,176.87 L481.04,176.03 L481.30,175.20 L481.57,174.37 L481.83,173.54 L482.09,172.70 L482.35,171.86 L482.61,171.00 L482.88,170.12 L483.14,169.21 L483.40,168.27 L483.66,167.29 L483.92,166.28 L484.19,165.20 L484.45,164.05 L484.71,162.85 L484.97,161.61 L485.23,160.34 L485.50,159.05 L485.76,157.75 L486.02,156.46 L486.28,155.18 L486.54,153.89 L486.81,152.58 L487.07,151.26 L487.33,149.92 L487.59,148.56 L487.85,147.17 L488.12,145.76 L488.38,144.31 L488.64,142.84 L488.90,141.33 L489.16,139.80 L489.43,138.24 L489.69,136.66 L489.95,135.06 L490.21,133.44 L490.47,131.81 L490.74,130.17 L491.00,128.52 L491.26,126.85 L491.52,125.17 L491.78,123.48 L492.05,121.77 L492.31,120.04 L492.57,118.30 L492.83,116.54 L493.09,114.77 L493.36,112.98 L493.62,111.17 L493.88,109.34 L494.14,107.49 L494.40,105.62 L494.67,103.71 L494.93,101.75 L495.19,99.74 L495.45,97.70 L495.71,95.63 L495.98,93.55 L496.24,91.47 L496.50,89.39 L496.76,87.34 L497.02,85.31 L497.29,83.32 L497.55,81.36 L497.81,79.41 L498.07,77.47 L498.33,75.54 L498.60,73.62 L498.86,71.70 L499.12,69.80 L499.38,67.90 L499.64,66.01 L499.91,64.13 L500.17,62.25 L500.43,60.37 L500.69,58.50 L500.95,56.64 L501.22,54.78 L501.48,52.88 L501.74,50.93 L502.00,48.93 L502.26,46.90 L502.53,44.86 L502.79,42.83 L503.05,40.82 L503.31,38.85 L503.57,36.93 L503.84,35.09 L504.10,33.33 L504.36,31.67 L504.62,30.13 L504.88,28.73 L505.15,27.48 L505.41,26.33 L505.67,25.21 L505.93,24.12 L506.19,23.09 L506.46,22.10 L506.72,21.16 L506.98,20.28 L507.24,19.47 L507.50,18.72 L507.77,18.05 L508.03,17.46 L508.29,16.96 L508.55,16.49 L508.81,16.02 L509.08,15.59 L509.34,15.21 L509.60,14.91 L509.86,14.71 L510.12,14.64 L510.39,14.68 L510.65,14.79 L510.91,14.96 L511.17,15.18 L511.43,15.45 L511.70,15.76 L511.96,16.08 L512.22,16.42 L512.48,16.82 L512.74,17.34 L513.01,17.96 L513.27,18.68 L513.53,19.50 L513.79,20.39 L514.05,21.37 L514.32,22.41 L514.58,23.52 L514.84,24.67 L515.10,25.88 L515.36,27.12 L515.63,28.50 L515.89,30.11 L516.15,31.91 L516.41,33.88 L516.67,36.01 L516.94,38.26 L517.20,40.62 L517.46,43.06 L517.72,45.56 L517.98,48.10 L518.25,50.64 L518.51,53.17 L518.77,55.67 L519.03,58.20 L519.29,60.85 L519.56,63.58 L519.82,66.38 L520.08,69.22 L520.34,72.08 L520.60,74.94 L520.87,77.79 L521.13,80.67 L521.39,83.56 L521.65,86.46 L521.91,89.39 L522.18,92.34 L522.44,95.31 L522.70,98.30 L522.96,101.32 L523.22,104.36 L523.49,107.43 L523.75,110.52 L524.01,113.65 L524.27,116.89 L524.53,120.29 L524.80,123.81 L525.06,127.39 L525.32,130.99 L525.58,134.55 L525.84,138.03 L526.11,141.36 L526.37,144.51 L526.63,147.42 L526.89,150.04 L527.15,152.56 L527.42,155.17 L527.68,157.81 L527.94,160.44 L528.20,163.00 L528.46,165.45 L528.73,167.73 L528.99,169.81 L529.25,171.61 L529.51,173.11 L529.77,174.23 L530.04,174.95 L530.30,175.20 L530.56,174.98 L530.82,174.35 L531.08,173.35 L531.35,172.04 L531.61,170.46 L531.87,168.66 L532.13,166.68 L532.39,164.57 L532.66,162.37 L532.92,160.14 L533.18,157.91 L533.44,155.75 L533.70,153.68 L533.97,151.76 L534.23,150.04 L534.49,148.43 L534.75,146.81 L535.01,145.18 L535.28,143.55 L535.54,141.93 L535.80,140.30 L536.06,138.69 L536.32,137.08 L536.59,135.48 L536.85,133.90 L537.11,132.34 L537.37,130.79 L537.63,129.27 L537.90,127.78 L538.16,126.31 L538.42,124.87 L538.68,123.47 L538.94,122.11 L539.21,120.78 L539.47,119.46 L539.73,118.11 L539.99,116.76 L540.25,115.44 L540.52,114.15 L540.78,112.94 L541.04,111.81 L541.30,110.79 L541.56,109.91 L541.83,109.19 L542.09,108.55 L542.35,107.92 L542.61,107.30 L542.87,106.71 L543.14,106.16 L543.40,105.65 L543.66,105.19 L543.92,104.79 L544.18,104.46 L544.45,104.22 L544.71,104.07 L544.97,104.01 L545.23,104.06 L545.49,104.20 L545.76,104.42 L546.02,104.70 L546.28,105.05 L546.54,105.44 L546.80,105.88 L547.07,106.34 L547.33,106.83 L547.59,107.32 L547.85,107.81 L548.11,108.30 L548.38,108.80 L548.64,109.36 L548.90,109.97 L549.16,110.63 L549.42,111.33 L549.69,112.07 L549.95,112.84 L550.21,113.65 L550.47,114.51 L550.73,115.45 L551.00,116.46 L551.26,117.53 L551.52,118.65 L551.78,119.82 L552.04,121.02 L552.31,122.25 L552.57,123.51 L552.83,124.77 L553.09,126.04 L553.35,127.30 L553.62,128.55 L553.88,129.78 L554.14,130.99 L554.40,132.15 L554.66,133.27 L554.93,134.38 L555.19,135.50 L555.45,136.63 L555.71,137.77 L555.97,138.92 L556.24,140.06 L556.50,141.20 L556.76,142.32 L557.02,143.43 L557.28,144.52 L557.55,145.59 L557.81,146.63 L558.07,147.63 L558.33,148.60 L558.59,149.53 L558.86,150.41 L559.12,151.23 L559.38,152.00 L559.64,152.73 L559.90,153.43 L560.17,154.11 L560.43,154.76 L560.69,155.39 L560.95,155.99 L561.21,156.57 L561.48,157.14 L561.74,157.68 L562.00,158.20 L562.26,158.71 L562.52,159.20 L562.79,159.68 L563.05,160.13 L563.31,160.56 L563.57,160.96 L563.83,161.35 L564.10,161.73 L564.36,162.10 L564.62,162.47 L564.88,162.84 L565.14,163.21 L565.41,163.60 L565.67,164.00 L565.93,164.40 L566.19,164.80 L566.45,165.21 L566.72,165.61 L566.98,166.02 L567.24,166.43 L567.50,166.84 L567.76,167.24 L568.03,167.65 L568.29,168.05 L568.55,168.45 L568.81,168.84 L569.07,169.24 L569.34,169.62 L569.60,170.00 L569.86,170.38 L570.12,170.75 L570.38,171.11 L570.65,171.46 L570.91,171.81 L571.17,172.16 L571.43,172.50 L571.69,172.84 L571.96,173.17 L572.22,173.51 L572.48,173.84 L572.74,174.18 L573.00,174.52 L573.27,174.85 L573.53,175.20 L573.79,175.54 L574.05,175.89 L574.31,176.25 L574.58,176.61 L574.84,176.98 L575.10,177.36 L575.36,177.73 L575.62,178.12 L575.89,178.50 L576.15,178.90 L576.41,179.29 L576.67,179.69 L576.93,180.09 L577.20,180.49 L577.46,180.89 L577.72,181.30 L577.98,181.71 L578.24,182.13 L578.51,182.54 L578.77,182.96 L579.03,183.38 L579.29,183.80 L579.55,184.23 L579.82,184.65 L580.08,185.08 L580.34,185.52 L580.60,185.97 L580.86,186.42 L581.13,186.88 L581.39,187.34 L581.65,187.80 L581.91,188.27 L582.17,188.74 L582.44,189.20 L582.70,189.67 L582.96,190.13 L583.22,190.59 L583.48,191.05 L583.75,191.50 L584.01,191.94 L584.27,192.37 L584.53,192.80 L584.79,193.21 L585.06,193.63 L585.32,194.05 L585.58,194.48 L585.84,194.91 L586.10,195.34 L586.37,195.77 L586.63,196.20 L586.89,196.62 L587.15,197.03 L587.41,197.43 L587.68,197.82 L587.94,198.19 L588.20,198.55 L588.46,198.89 L588.72,199.20 L588.99,199.49 L589.25,199.76 L589.51,199.99 L589.77,200.21 L590.03,200.43 L590.30,200.65 L590.56,200.86 L590.82,201.07 L591.08,201.27 L591.34,201.46 L591.61,201.65 L591.87,201.82 L592.13,201.98 L592.39,202.13 L592.65,202.26 L592.92,202.38 L593.18,202.48 L593.44,202.56 L593.70,202.63 L593.96,202.67 L594.23,202.70 L594.49,202.73 L594.75,202.75 L595.01,202.77 L595.27,202.79 L595.54,202.81 L595.80,202.82 L596.06,202.83 L596.32,202.85 L596.58,202.86 L596.85,202.87 L597.11,202.88 L597.37,202.89 L597.63,202.90 L597.89,202.92 L598.16,202.93 L598.42,202.95 L598.68,202.96 L598.94,202.98 L599.20,203.00 L599.47,203.03 L599.73,203.05 L599.99,203.08 L600.25,203.11 L600.51,203.15 L600.78,203.18 L601.04,203.22 L601.30,203.26 L601.56,203.30 L601.82,203.35 L602.09,203.40 L602.35,203.44 L602.61,203.50 L602.87,203.55 L603.13,203.61 L603.40,203.66 L603.66,203.72 L603.92,203.79 L604.18,203.85 L604.44,203.92 L604.71,203.99 L604.97,204.08 L605.23,204.18 L605.49,204.29 L605.75,204.41 L606.02,204.53 L606.28,204.67 L606.54,204.80 L606.80,204.94 L607.06,205.08 L607.33,205.22 L607.59,205.36 L607.85,205.49 L608.11,205.62 L608.37,205.74 L608.64,205.86 L608.90,205.96 L609.16,206.06 L609.42,206.15 L609.68,206.24 L609.95,206.34 L610.21,206.44 L610.47,206.53 L610.73,206.63 L610.99,206.73 L611.26,206.82 L611.52,206.91 L611.78,207.00 L612.04,207.08 L612.30,207.16 L612.57,207.23 L612.83,207.29 L613.09,207.35 L613.35,207.40 L613.61,207.43 L613.88,207.46 L614.14,207.48 L614.40,207.49 L614.66,207.48 L614.92,207.45 L615.19,207.41 L615.45,207.36 L615.71,207.29 L615.97,207.22 L616.23,207.14 L616.50,207.05 L616.76,206.96 L617.02,206.86 L617.28,206.77 L617.54,206.68 L617.81,206.58 L618.07,206.50 L618.33,206.42 L618.59,206.33 L618.85,206.24 L619.12,206.14 L619.38,206.04 L619.64,205.93 L619.90,205.81 L620.16,205.70 L620.43,205.59 L620.69,205.49 L620.95,205.38 L621.21,205.29 L621.47,205.21 L621.74,205.13 L622.00,205.07 L622.26,205.03 L622.52,205.00 L622.78,204.99 L623.05,204.99 L623.31,205.00 L623.57,205.01 L623.83,205.03 L624.09,205.05 L624.36,205.07 L624.62,205.10 L624.88,205.13 L625.14,205.17 L625.40,205.20 L625.67,205.24 L625.93,205.28 L626.19,205.32 L626.45,205.36 L626.71,205.40 L626.98,205.44 L627.24,205.48 L627.50,205.52 L627.76,205.57 L628.02,205.62 L628.29,205.69 L628.55,205.76 L628.81,205.83 L629.07,205.91 L629.33,205.98 L629.60,206.06 L629.86,206.13 L630.12,206.20 L630.38,206.27 L630.64,206.32 L630.91,206.36 L631.17,206.40 L631.43,206.42 L631.69,206.43 L631.95,206.44 L632.22,206.45 L632.48,206.46 L632.74,206.47 L633.00,206.48 L633.26,206.49 L633.53,206.50 L633.79,206.51 L634.05,206.52 L634.31,206.52 L634.57,206.53 L634.84,206.54 L635.10,206.54 L635.36,206.55 L635.62,206.56 L635.88,206.56 L636.15,206.57 L636.41,206.57 L636.67,206.57 L636.93,206.58 L637.19,206.58 L637.46,206.58 L637.72,206.59 L637.98,206.59 L638.24,206.59 L638.50,206.59 L638.77,206.59 L639.03,206.59 L639.29,206.59 L639.55,206.59 L639.81,206.59 L640.08,206.59 L640.34,206.59 L640.60,206.58 L640.86,206.58 L641.12,206.57 L641.39,206.56 L641.65,206.56 L641.91,206.55 L642.17,206.54 L642.43,206.53 L642.70,206.52 L642.96,206.51 L643.22,206.50 L643.48,206.49 L643.74,206.47 L644.01,206.46 L644.27,206.45 L644.53,206.43 L644.79,206.42 L645.05,206.41 L645.32,206.39 L645.58,206.38 L645.84,206.36 L646.10,206.35 L646.36,206.33 L646.63,206.32 L646.89,206.30 L647.15,206.28 L647.41,206.27 L647.67,206.25 L647.94,206.24 L648.20,206.22 L648.46,206.20 L648.72,206.18 L648.98,206.15 L649.25,206.13 L649.51,206.10 L649.77,206.07 L650.03,206.04 L650.29,206.00 L650.56,205.97 L650.82,205.93 L651.08,205.90 L651.34,205.86 L651.60,205.82 L651.87,205.78 L652.13,205.75 L652.39,205.71 L652.65,205.67 L652.91,205.63 L653.18,205.59 L653.44,205.55 L653.70,205.52 L653.96,205.48 L654.22,205.45 L654.49,205.41 L654.75,205.38 L655.01,205.35 L655.27,205.32 L655.53,205.29 L655.80,205.27 L656.06,205.25 L656.32,205.23 L656.58,205.21 L656.84,205.19 L657.11,205.18 L657.37,205.17 L657.63,205.17 L657.89,205.17 L658.15,205.17 L658.42,205.18 L658.68,205.20 L658.94,205.22 L659.20,205.24 L659.46,205.28 L659.73,205.31 L659.99,205.35 L660.25,205.40 L660.51,205.44 L660.77,205.49 L661.04,205.54 L661.30,205.60 L661.56,205.65 L661.82,205.71 L662.08,205.76 L662.35,205.82 L662.61,205.88 L662.87,205.93 L663.13,205.99 L663.39,206.04 L663.66,206.09 L663.92,206.14 L664.18,206.19 L664.44,206.23 L664.70,206.27 L664.97,206.31 L665.23,206.34 L665.49,206.37 L665.75,206.39 L666.01,206.40 L666.28,206.41 L666.54,206.42 L666.80,206.42 L667.06,206.41 L667.32,206.41 L667.59,206.40 L667.85,206.40 L668.11,206.39 L668.37,206.38 L668.63,206.37 L668.90,206.36 L669.16,206.35 L669.42,206.33 L669.68,206.32 L669.94,206.30 L670.21,206.29 L670.47,206.27 L670.73,206.26 L670.99,206.24 L671.25,206.22 L671.52,206.20 L671.78,206.18 L672.04,206.17 L672.30,206.15 L672.56,206.13 L672.83,206.11 L673.09,206.09 L673.35,206.08 L673.61,206.06 L673.87,206.04 L674.14,206.02 L674.40,206.01 L674.66,205.99 L674.92,205.98 L675.18,205.96 L675.45,205.95 L675.71,205.94 L675.97,205.93 L676.23,205.92 L676.49,205.91 L676.76,205.90 L677.02,205.89 L677.28,205.89 L677.54,205.88 L677.80,205.88 L678.07,205.88 L678.33,205.88 L678.59,205.89 L678.85,205.89 L679.11,205.90 L679.38,205.92 L679.64,205.93 L679.90,205.95 L680.16,205.97 L680.42,205.99 L680.69,206.01 L680.95,206.04 L681.21,206.07 L681.47,206.09 L681.73,206.12 L682.00,206.15 L682.26,206.18 L682.52,206.21 L682.78,206.25 L683.04,206.28 L683.31,206.31 L683.57,206.34 L683.83,206.38 L684.09,206.41 L684.35,206.44 L684.62,206.47 L684.88,206.50 L685.14,206.53 L685.40,206.56 L685.66,206.59 L685.93,206.61 L686.19,206.64 L686.45,206.66 L686.71,206.68 L686.97,206.70 L687.24,206.72 L687.50,206.74 L687.76,206.75 L688.02,206.76 L688.28,206.77 L688.55,206.77 L688.81,206.77 L689.07,206.77 L689.33,206.77 L689.59,206.76 L689.86,206.75 L690.12,206.74 L690.38,206.72 L690.64,206.70 L690.90,206.68 L691.17,206.66 L691.43,206.64 L691.69,206.61 L691.95,206.59 L692.21,206.56 L692.48,206.53 L692.74,206.50 L693.00,206.48 L693.26,206.45 L693.52,206.42 L693.79,206.39 L694.05,206.36 L694.31,206.33 L694.57,206.30 L694.83,206.27 L695.10,206.24 L695.36,206.22 L695.62,206.19 L695.88,206.17 L696.14,206.15 L696.41,206.13 L696.67,206.11 L696.93,206.10 L697.19,206.08 L697.45,206.07 L697.72,206.07 L697.98,206.06 L698.24,206.06 L698.50,206.06 L698.76,206.06 L699.03,206.07 L699.29,206.07 L699.55,206.08 L699.81,206.09 L700.07,206.10 L700.34,206.11 L700.60,206.13 L700.86,206.14 L701.12,206.15 L701.38,206.17 L701.65,206.19 L701.91,206.20 L702.17,206.22 L702.43,206.24 L702.69,206.26 L702.96,206.27 L703.22,206.29 L703.48,206.31 L703.74,206.33 L704.00,206.34 L704.27,206.36 L704.53,206.38 L704.79,206.39 L705.05,206.41 L705.31,206.43 L705.58,206.44 L705.84,206.45 L706.10,206.46 L706.36,206.47 L706.62,206.48 L706.89,206.49 L707.15,206.50 L707.41,206.50 L707.67,206.50 L707.93,206.51 L708.20,206.50 L708.46,206.50 L708.72,206.50 L708.98,206.49 L709.24,206.49 L709.51,206.48 L709.77,206.47 L710.03,206.46 L710.29,206.45 L710.55,206.44 L710.82,206.43 L711.08,206.42 L711.34,206.41 L711.60,206.40 L711.86,206.38 L712.13,206.37 L712.39,206.36 L712.65,206.35 L712.91,206.33 L713.17,206.32 L713.44,206.31 L713.70,206.30 L713.96,206.29 L714.22,206.28 L714.48,206.27 L714.75,206.26 L715.01,206.26 L715.27,206.25 L715.53,206.24 L715.79,206.24 L716.06,206.24 L716.32,206.24 L716.58,206.24 L716.84,206.24 L717.10,206.25 L717.37,206.26 L717.63,206.27 L717.89,206.29 L718.15,206.30 L718.41,206.32 L718.68,206.34 L718.94,206.37 L719.20,206.39 L719.46,206.41 L719.72,206.44 L719.99,206.47 L720.25,206.49 L720.51,206.52 L720.77,206.55 L721.03,206.58 L721.30,206.61 L721.56,206.64 L721.82,206.67 L722.08,206.69 L722.34,206.72 L722.61,206.75 L722.87,206.77 L723.13,206.80 L723.39,206.82 L723.65,206.85 L723.92,206.87 L724.18,206.88 L724.44,206.90 L724.70,206.92 L724.96,206.93 L725.23,206.94 L725.49,206.95 L725.75,206.95 L726.01,206.95 L726.27,206.95 L726.54,206.95 L726.80,206.95 L727.06,206.94 L727.32,206.93 L727.58,206.93 L727.85,206.92 L728.11,206.91 L728.37,206.90 L728.63,206.89 L728.89,206.87 L729.16,206.86 L729.42,206.84 L729.68,206.82 L729.94,206.81 L730.20,206.79 L730.47,206.77 L730.73,206.75 L730.99,206.72 L731.25,206.70 L731.51,206.67 L731.78,206.65 L732.04,206.62 L732.30,206.59" fill="none" stroke="#000" stroke-width="1.95" stroke-linejoin="round"/><path d="M444.10,208.20 L444.36,208.20 L444.62,208.20 L444.89,208.20 L445.15,208.20 L445.41,208.20 L445.67,208.20 L445.93,208.20 L446.20,208.20 L446.46,208.19 L446.72,208.19 L446.98,208.19 L447.24,208.19 L447.51,208.19 L447.77,208.19 L448.03,208.18 L448.29,208.18 L448.55,208.18 L448.82,208.18 L449.08,208.17 L449.34,208.17 L449.60,208.17 L449.86,208.17 L450.13,208.16 L450.39,208.16 L450.65,208.15 L450.91,208.15 L451.17,208.15 L451.44,208.14 L451.70,208.14 L451.96,208.14 L452.22,208.13 L452.48,208.13 L452.75,208.12 L453.01,208.12 L453.27,208.11 L453.53,208.11 L453.79,208.10 L454.06,208.10 L454.32,208.09 L454.58,208.09 L454.84,208.08 L455.10,208.07 L455.37,208.07 L455.63,208.06 L455.89,208.06 L456.15,208.05 L456.41,208.04 L456.68,208.04 L456.94,208.03 L457.20,208.02 L457.46,208.01 L457.72,208.00 L457.99,207.98 L458.25,207.97 L458.51,207.94 L458.77,207.92 L459.03,207.89 L459.30,207.86 L459.56,207.82 L459.82,207.78 L460.08,207.74 L460.34,207.70 L460.61,207.65 L460.87,207.60 L461.13,207.54 L461.39,207.49 L461.65,207.43 L461.92,207.37 L462.18,207.30 L462.44,207.23 L462.70,207.16 L462.96,207.09 L463.23,207.01 L463.49,206.94 L463.75,206.86 L464.01,206.77 L464.27,206.69 L464.54,206.60 L464.80,206.51 L465.06,206.41 L465.32,206.32 L465.58,206.22 L465.85,206.12 L466.11,206.02 L466.37,205.92 L466.63,205.81 L466.89,205.70 L467.16,205.58 L467.42,205.43 L467.68,205.26 L467.94,205.06 L468.20,204.84 L468.47,204.60 L468.73,204.34 L468.99,204.06 L469.25,203.77 L469.51,203.47 L469.78,203.15 L470.04,202.82 L470.30,202.48 L470.56,202.14 L470.82,201.79 L471.09,201.43 L471.35,201.07 L471.61,200.71 L471.87,200.35 L472.13,199.99 L472.40,199.63 L472.66,199.28 L472.92,198.93 L473.18,198.57 L473.44,198.20 L473.71,197.83 L473.97,197.45 L474.23,197.06 L474.49,196.67 L474.75,196.27 L475.02,195.86 L475.28,195.44 L475.54,195.02 L475.80,194.59 L476.06,194.15 L476.33,193.70 L476.59,193.24 L476.85,192.78 L477.11,192.31 L477.37,191.83 L477.64,191.34 L477.90,190.84 L478.16,190.33 L478.42,189.81 L478.68,189.29 L478.95,188.75 L479.21,188.21 L479.47,187.65 L479.73,187.08 L479.99,186.49 L480.26,185.90 L480.52,185.28 L480.78,184.65 L481.04,184.01 L481.30,183.35 L481.57,182.67 L481.83,181.97 L482.09,181.25 L482.35,180.51 L482.61,179.75 L482.88,178.97 L483.14,178.16 L483.40,177.34 L483.66,176.48 L483.92,175.57 L484.19,174.63 L484.45,173.64 L484.71,172.62 L484.97,171.55 L485.23,170.45 L485.50,169.30 L485.76,168.13 L486.02,166.91 L486.28,165.66 L486.54,164.38 L486.81,163.06 L487.07,161.67 L487.33,160.17 L487.59,158.58 L487.85,156.92 L488.12,155.22 L488.38,153.49 L488.64,151.76 L488.90,150.04 L489.16,148.33 L489.43,146.60 L489.69,144.85 L489.95,143.08 L490.21,141.30 L490.47,139.50 L490.74,137.68 L491.00,135.86 L491.26,134.02 L491.52,132.17 L491.78,130.30 L492.05,128.43 L492.31,126.56 L492.57,124.67 L492.83,122.78 L493.09,120.88 L493.36,118.98 L493.62,117.08 L493.88,115.17 L494.14,113.27 L494.40,111.36 L494.67,109.46 L494.93,107.55 L495.19,105.66 L495.45,103.76 L495.71,101.87 L495.98,99.99 L496.24,98.12 L496.50,96.25 L496.76,94.40 L497.02,92.55 L497.29,90.72 L497.55,88.90 L497.81,87.10 L498.07,85.30 L498.33,83.53 L498.60,81.77 L498.86,80.03 L499.12,78.31 L499.38,76.61 L499.64,74.94 L499.91,73.25 L500.17,71.53 L500.43,69.79 L500.69,68.03 L500.95,66.25 L501.22,64.48 L501.48,62.71 L501.74,60.95 L502.00,59.20 L502.26,57.48 L502.53,55.80 L502.79,54.15 L503.05,52.55 L503.31,51.00 L503.57,49.52 L503.84,48.10 L504.10,46.76 L504.36,45.50 L504.62,44.33 L504.88,43.26 L505.15,42.29 L505.41,41.37 L505.67,40.44 L505.93,39.51 L506.19,38.59 L506.46,37.68 L506.72,36.79 L506.98,35.91 L507.24,35.07 L507.50,34.26 L507.77,33.49 L508.03,32.77 L508.29,32.09 L508.55,31.48 L508.81,30.93 L509.08,30.44 L509.34,30.03 L509.60,29.71 L509.86,29.46 L510.12,29.32 L510.39,29.26 L510.65,29.31 L510.91,29.46 L511.17,29.69 L511.43,30.00 L511.70,30.39 L511.96,30.86 L512.22,31.40 L512.48,31.99 L512.74,32.65 L513.01,33.36 L513.27,34.12 L513.53,34.92 L513.79,35.76 L514.05,36.63 L514.32,37.54 L514.58,38.46 L514.84,39.40 L515.10,40.36 L515.36,41.32 L515.63,42.29 L515.89,43.31 L516.15,44.44 L516.41,45.68 L516.67,47.02 L516.94,48.46 L517.20,49.99 L517.46,51.62 L517.72,53.35 L517.98,55.16 L518.25,57.05 L518.51,59.03 L518.77,61.09 L519.03,63.22 L519.29,65.43 L519.56,67.71 L519.82,70.05 L520.08,72.46 L520.34,74.94 L520.60,77.62 L520.87,80.63 L521.13,83.95 L521.39,87.54 L521.65,91.36 L521.91,95.39 L522.18,99.58 L522.44,103.92 L522.70,108.35 L522.96,112.86 L523.22,117.41 L523.49,121.96 L523.75,126.49 L524.01,130.95 L524.27,135.32 L524.53,139.57 L524.80,143.65 L525.06,147.54 L525.32,151.36 L525.58,155.20 L525.84,159.04 L526.11,162.84 L526.37,166.56 L526.63,170.17 L526.89,173.64 L527.15,176.94 L527.42,180.01 L527.68,183.09 L527.94,186.35 L528.20,189.69 L528.46,193.01 L528.73,196.21 L528.99,199.18 L529.25,201.84 L529.51,204.09 L529.77,205.81 L530.04,206.92 L530.30,207.31 L530.56,206.75 L530.82,205.19 L531.08,202.79 L531.35,199.71 L531.61,196.13 L531.87,192.20 L532.13,188.10 L532.39,183.98 L532.66,180.01 L532.92,175.52 L533.18,170.09 L533.44,164.27 L533.70,158.62 L533.97,153.69 L534.23,150.04 L534.49,147.31 L534.75,144.77 L535.01,142.42 L535.28,140.25 L535.54,138.25 L535.80,136.43 L536.06,134.77 L536.32,133.28 L536.59,131.94 L536.85,130.75 L537.11,129.70 L537.37,128.74 L537.63,127.79 L537.90,126.85 L538.16,125.94 L538.42,125.05 L538.68,124.19 L538.94,123.37 L539.21,122.58 L539.47,121.83 L539.73,121.12 L539.99,120.47 L540.25,119.86 L540.52,119.32 L540.78,118.83 L541.04,118.41 L541.30,118.05 L541.56,117.77 L541.83,117.56 L542.09,117.44 L542.35,117.39 L542.61,117.42 L542.87,117.51 L543.14,117.65 L543.40,117.84 L543.66,118.08 L543.92,118.37 L544.18,118.69 L544.45,119.05 L544.71,119.45 L544.97,119.87 L545.23,120.32 L545.49,120.80 L545.76,121.30 L546.02,121.81 L546.28,122.34 L546.54,122.88 L546.80,123.42 L547.07,123.97 L547.33,124.52 L547.59,125.07 L547.85,125.61 L548.11,126.14 L548.38,126.68 L548.64,127.28 L548.90,127.91 L549.16,128.58 L549.42,129.29 L549.69,130.03 L549.95,130.79 L550.21,131.57 L550.47,132.37 L550.73,133.19 L551.00,134.02 L551.26,134.85 L551.52,135.69 L551.78,136.53 L552.04,137.36 L552.31,138.18 L552.57,138.99 L552.83,139.78 L553.09,140.55 L553.35,141.30 L553.62,142.04 L553.88,142.79 L554.14,143.55 L554.40,144.31 L554.66,145.07 L554.93,145.83 L555.19,146.59 L555.45,147.35 L555.71,148.09 L555.97,148.82 L556.24,149.54 L556.50,150.25 L556.76,150.93 L557.02,151.59 L557.28,152.23 L557.55,152.85 L557.81,153.43 L558.07,153.99 L558.33,154.53 L558.59,155.06 L558.86,155.57 L559.12,156.06 L559.38,156.54 L559.64,157.02 L559.90,157.48 L560.17,157.93 L560.43,158.38 L560.69,158.83 L560.95,159.27 L561.21,159.70 L561.48,160.14 L561.74,160.57 L562.00,161.01 L562.26,161.45 L562.52,161.90 L562.79,162.35 L563.05,162.81 L563.31,163.26 L563.57,163.70 L563.83,164.15 L564.10,164.59 L564.36,165.03 L564.62,165.47 L564.88,165.91 L565.14,166.35 L565.41,166.79 L565.67,167.22 L565.93,167.66 L566.19,168.10 L566.45,168.53 L566.72,168.97 L566.98,169.41 L567.24,169.85 L567.50,170.29 L567.76,170.74 L568.03,171.18 L568.29,171.63 L568.55,172.08 L568.81,172.53 L569.07,172.99 L569.34,173.45 L569.60,173.91 L569.86,174.38 L570.12,174.84 L570.38,175.30 L570.65,175.77 L570.91,176.23 L571.17,176.69 L571.43,177.15 L571.69,177.61 L571.96,178.06 L572.22,178.51 L572.48,178.96 L572.74,179.40 L573.00,179.83 L573.27,180.26 L573.53,180.69 L573.79,181.10 L574.05,181.52 L574.31,181.93 L574.58,182.33 L574.84,182.74 L575.10,183.14 L575.36,183.54 L575.62,183.94 L575.89,184.34 L576.15,184.74 L576.41,185.14 L576.67,185.54 L576.93,185.95 L577.20,186.36 L577.46,186.77 L577.72,187.19 L577.98,187.61 L578.24,188.04 L578.51,188.48 L578.77,188.94 L579.03,189.41 L579.29,189.89 L579.55,190.38 L579.82,190.88 L580.08,191.37 L580.34,191.87 L580.60,192.36 L580.86,192.85 L581.13,193.33 L581.39,193.80 L581.65,194.26 L581.91,194.70 L582.17,195.12 L582.44,195.52 L582.70,195.90 L582.96,196.25 L583.22,196.58 L583.48,196.90 L583.75,197.22 L584.01,197.54 L584.27,197.84 L584.53,198.14 L584.79,198.43 L585.06,198.71 L585.32,198.99 L585.58,199.25 L585.84,199.51 L586.10,199.76 L586.37,200.00 L586.63,200.23 L586.89,200.46 L587.15,200.67 L587.41,200.87 L587.68,201.06 L587.94,201.24 L588.20,201.42 L588.46,201.59 L588.72,201.76 L588.99,201.93 L589.25,202.10 L589.51,202.26 L589.77,202.42 L590.03,202.57 L590.30,202.72 L590.56,202.86 L590.82,203.00 L591.08,203.12 L591.34,203.24 L591.61,203.35 L591.87,203.45 L592.13,203.54 L592.39,203.62 L592.65,203.69 L592.92,203.74 L593.18,203.79 L593.44,203.83 L593.70,203.87 L593.96,203.91 L594.23,203.94 L594.49,203.98 L594.75,204.01 L595.01,204.04 L595.27,204.06 L595.54,204.09 L595.80,204.11 L596.06,204.14 L596.32,204.16 L596.58,204.18 L596.85,204.20 L597.11,204.23 L597.37,204.25 L597.63,204.27 L597.89,204.29 L598.16,204.32 L598.42,204.34 L598.68,204.37 L598.94,204.39 L599.20,204.42 L599.47,204.45 L599.73,204.49 L599.99,204.52 L600.25,204.55 L600.51,204.58 L600.78,204.61 L601.04,204.64 L601.30,204.68 L601.56,204.71 L601.82,204.74 L602.09,204.77 L602.35,204.81 L602.61,204.84 L602.87,204.88 L603.13,204.91 L603.40,204.95 L603.66,204.98 L603.92,205.02 L604.18,205.06 L604.44,205.10 L604.71,205.13 L604.97,205.17 L605.23,205.22 L605.49,205.26 L605.75,205.30 L606.02,205.35 L606.28,205.39 L606.54,205.44 L606.80,205.50 L607.06,205.56 L607.33,205.62 L607.59,205.68 L607.85,205.75 L608.11,205.82 L608.37,205.89 L608.64,205.97 L608.90,206.04 L609.16,206.12 L609.42,206.20 L609.68,206.27 L609.95,206.35 L610.21,206.43 L610.47,206.51 L610.73,206.58 L610.99,206.66 L611.26,206.74 L611.52,206.81 L611.78,206.88 L612.04,206.95 L612.30,207.02 L612.57,207.08 L612.83,207.14 L613.09,207.20 L613.35,207.25 L613.61,207.30 L613.88,207.35 L614.14,207.39 L614.40,207.43 L614.66,207.46 L614.92,207.49 L615.19,207.51 L615.45,207.53 L615.71,207.56 L615.97,207.58 L616.23,207.60 L616.50,207.62 L616.76,207.64 L617.02,207.66 L617.28,207.68 L617.54,207.70 L617.81,207.72 L618.07,207.74 L618.33,207.76 L618.59,207.78 L618.85,207.80 L619.12,207.82 L619.38,207.83 L619.64,207.85 L619.90,207.86 L620.16,207.88 L620.43,207.89 L620.69,207.91 L620.95,207.92 L621.21,207.93 L621.47,207.94 L621.74,207.96 L622.00,207.97 L622.26,207.98 L622.52,207.98 L622.78,207.99 L623.05,208.00 L623.31,208.00 L623.57,208.01 L623.83,208.01 L624.09,208.02 L624.36,208.02 L624.62,208.02 L624.88,208.02 L625.14,208.02 L625.40,208.02 L625.67,208.02 L625.93,208.02 L626.19,208.02 L626.45,208.02 L626.71,208.02 L626.98,208.02 L627.24,208.02 L627.50,208.02 L627.76,208.02 L628.02,208.02 L628.29,208.02 L628.55,208.02 L628.81,208.02 L629.07,208.02 L629.33,208.02 L629.60,208.02 L629.86,208.02 L630.12,208.02 L630.38,208.02 L630.64,208.02 L630.91,208.02 L631.17,208.02 L631.43,208.02 L631.69,208.02 L631.95,208.02 L632.22,208.02 L632.48,208.02 L632.74,208.02 L633.00,208.02 L633.26,208.02 L633.53,208.02 L633.79,208.02 L634.05,208.02 L634.31,208.02 L634.57,208.02 L634.84,208.02 L635.10,208.02 L635.36,208.02 L635.62,208.02 L635.88,208.02 L636.15,208.02 L636.41,208.02 L636.67,208.02 L636.93,208.02 L637.19,208.02 L637.46,208.02 L637.72,208.02 L637.98,208.02 L638.24,208.02 L638.50,208.02 L638.77,208.02 L639.03,208.02 L639.29,208.02 L639.55,208.02 L639.81,208.02 L640.08,208.02 L640.34,208.02 L640.60,208.02 L640.86,208.02 L641.12,208.02 L641.39,208.02 L641.65,208.02 L641.91,208.02 L642.17,208.02 L642.43,208.02 L642.70,208.02 L642.96,208.02 L643.22,208.02 L643.48,208.02 L643.74,208.02 L644.01,208.02 L644.27,208.02 L644.53,208.02 L644.79,208.02 L645.05,208.02 L645.32,208.02 L645.58,208.02 L645.84,208.02 L646.10,208.02 L646.36,208.02 L646.63,208.02 L646.89,208.02 L647.15,208.02 L647.41,208.02 L647.67,208.02 L647.94,208.02 L648.20,208.02 L648.46,208.02 L648.72,208.02 L648.98,208.02 L649.25,208.02 L649.51,208.02 L649.77,208.02 L650.03,208.02 L650.29,208.02 L650.56,208.02 L650.82,208.02 L651.08,208.02 L651.34,208.02 L651.60,208.02 L651.87,208.02 L652.13,208.02 L652.39,208.02 L652.65,208.02 L652.91,208.02 L653.18,208.02 L653.44,208.02 L653.70,208.02 L653.96,208.02 L654.22,208.02 L654.49,208.02 L654.75,208.02 L655.01,208.02 L655.27,208.02 L655.53,208.02 L655.80,208.02 L656.06,208.02 L656.32,208.02 L656.58,208.02 L656.84,208.02 L657.11,208.02 L657.37,208.02 L657.63,208.02 L657.89,208.02 L658.15,208.02 L658.42,208.02 L658.68,208.02 L658.94,208.02 L659.20,208.02 L659.46,208.02 L659.73,208.02 L659.99,208.02 L660.25,208.02 L660.51,208.02 L660.77,208.02 L661.04,208.02 L661.30,208.02 L661.56,208.02 L661.82,208.02 L662.08,208.02 L662.35,208.02 L662.61,208.02 L662.87,208.02 L663.13,208.02 L663.39,208.02 L663.66,208.02 L663.92,208.02 L664.18,208.02 L664.44,208.02 L664.70,208.02 L664.97,208.02 L665.23,208.02 L665.49,208.02 L665.75,208.02 L666.01,208.02 L666.28,208.02 L666.54,208.02 L666.80,208.02 L667.06,208.02 L667.32,208.02 L667.59,208.02 L667.85,208.02 L668.11,208.02 L668.37,208.02 L668.63,208.02 L668.90,208.02 L669.16,208.02 L669.42,208.02 L669.68,208.02 L669.94,208.02 L670.21,208.02 L670.47,208.02 L670.73,208.02 L670.99,208.02 L671.25,208.02 L671.52,208.02 L671.78,208.02 L672.04,208.02 L672.30,208.02 L672.56,208.02 L672.83,208.02 L673.09,208.02 L673.35,208.02 L673.61,208.02 L673.87,208.02 L674.14,208.02 L674.40,208.02 L674.66,208.02 L674.92,208.02 L675.18,208.02 L675.45,208.02 L675.71,208.02 L675.97,208.02 L676.23,208.02 L676.49,208.02 L676.76,208.02 L677.02,208.02 L677.28,208.02 L677.54,208.02 L677.80,208.02 L678.07,208.02 L678.33,208.02 L678.59,208.02 L678.85,208.02 L679.11,208.02 L679.38,208.02 L679.64,208.02 L679.90,208.02 L680.16,208.02 L680.42,208.02 L680.69,208.02 L680.95,208.02 L681.21,208.02 L681.47,208.02 L681.73,208.02 L682.00,208.02 L682.26,208.02 L682.52,208.02 L682.78,208.02 L683.04,208.02 L683.31,208.02 L683.57,208.02 L683.83,208.02 L684.09,208.02 L684.35,208.02 L684.62,208.02 L684.88,208.02 L685.14,208.02 L685.40,208.02 L685.66,208.02 L685.93,208.02 L686.19,208.02 L686.45,208.02 L686.71,208.02 L686.97,208.02 L687.24,208.02 L687.50,208.02 L687.76,208.02 L688.02,208.02 L688.28,208.02 L688.55,208.02 L688.81,208.02 L689.07,208.02 L689.33,208.02 L689.59,208.02 L689.86,208.02 L690.12,208.02 L690.38,208.02 L690.64,208.02 L690.90,208.02 L691.17,208.02 L691.43,208.02 L691.69,208.02 L691.95,208.02 L692.21,208.02 L692.48,208.02 L692.74,208.02 L693.00,208.02 L693.26,208.02 L693.52,208.02 L693.79,208.02 L694.05,208.02 L694.31,208.02 L694.57,208.02 L694.83,208.02 L695.10,208.02 L695.36,208.02 L695.62,208.02 L695.88,208.02 L696.14,208.02 L696.41,208.02 L696.67,208.02 L696.93,208.02 L697.19,208.02 L697.45,208.02 L697.72,208.02 L697.98,208.02 L698.24,208.02 L698.50,208.02 L698.76,208.02 L699.03,208.02 L699.29,208.02 L699.55,208.02 L699.81,208.02 L700.07,208.02 L700.34,208.02 L700.60,208.02 L700.86,208.02 L701.12,208.02 L701.38,208.02 L701.65,208.02 L701.91,208.02 L702.17,208.02 L702.43,208.02 L702.69,208.02 L702.96,208.02 L703.22,208.02 L703.48,208.02 L703.74,208.02 L704.00,208.02 L704.27,208.02 L704.53,208.02 L704.79,208.02 L705.05,208.02 L705.31,208.02 L705.58,208.02 L705.84,208.02 L706.10,208.02 L706.36,208.02 L706.62,208.02 L706.89,208.02 L707.15,208.02 L707.41,208.02 L707.67,208.02 L707.93,208.02 L708.20,208.02 L708.46,208.02 L708.72,208.02 L708.98,208.02 L709.24,208.02 L709.51,208.02 L709.77,208.02 L710.03,208.02 L710.29,208.02 L710.55,208.02 L710.82,208.02 L711.08,208.02 L711.34,208.02 L711.60,208.02 L711.86,208.02 L712.13,208.02 L712.39,208.02 L712.65,208.02 L712.91,208.02 L713.17,208.02 L713.44,208.02 L713.70,208.02 L713.96,208.02 L714.22,208.02 L714.48,208.02 L714.75,208.02 L715.01,208.02 L715.27,208.02 L715.53,208.02 L715.79,208.02 L716.06,208.02 L716.32,208.02 L716.58,208.02 L716.84,208.02 L717.10,208.02 L717.37,208.02 L717.63,208.02 L717.89,208.02 L718.15,208.02 L718.41,208.02 L718.68,208.02 L718.94,208.02 L719.20,208.02 L719.46,208.02 L719.72,208.02 L719.99,208.02 L720.25,208.02 L720.51,208.02 L720.77,208.02 L721.03,208.02 L721.30,208.02 L721.56,208.02 L721.82,208.02 L722.08,208.02 L722.34,208.02 L722.61,208.02 L722.87,208.02 L723.13,208.02 L723.39,208.02 L723.65,208.02 L723.92,208.02 L724.18,208.02 L724.44,208.02 L724.70,208.02 L724.96,208.02 L725.23,208.02 L725.49,208.02 L725.75,208.02 L726.01,208.02 L726.27,208.02 L726.54,208.02 L726.80,208.02 L727.06,208.02 L727.32,208.02 L727.58,208.02 L727.85,208.02 L728.11,208.02 L728.37,208.02 L728.63,208.02 L728.89,208.02 L729.16,208.02 L729.42,208.02 L729.68,208.02 L729.94,208.02 L730.20,208.02 L730.47,208.02 L730.73,208.02 L730.99,208.02 L731.25,208.02 L731.51,208.02 L731.78,208.02 L732.04,208.02 L732.30,208.02" fill="none" stroke="#858585" stroke-width="1.95" stroke-linejoin="round"/><g stroke="#222" stroke-width="1.3" fill="none"><path d="M430,4.8 H746.5 V217.2 H430 Z"/><line x1="430" y1="208.20" x2="432" y2="208.20"/><line x1="430" y1="172.52" x2="432" y2="172.52"/><line x1="430" y1="136.84" x2="432" y2="136.84"/><line x1="430" y1="101.16" x2="432" y2="101.16"/><line x1="430" y1="65.48" x2="432" y2="65.48"/><line x1="430" y1="29.80" x2="432" y2="29.80"/><line x1="444.10" y1="217.2" x2="444.10" y2="215.2"/><line x1="496.50" y1="217.2" x2="496.50" y2="215.2"/><line x1="548.90" y1="217.2" x2="548.90" y2="215.2"/><line x1="601.30" y1="217.2" x2="601.30" y2="215.2"/><line x1="653.70" y1="217.2" x2="653.70" y2="215.2"/><line x1="706.10" y1="217.2" x2="706.10" y2="215.2"/></g><g font-size="12.2" fill="#333" text-anchor="end"><text x="425" y="212.10">0</text><text x="425" y="176.42">2</text><text x="425" y="140.74">4</text><text x="425" y="105.06">6</text><text x="425" y="69.38">8</text><text x="425" y="33.70" letter-spacing="-0.7">10</text></g><g font-size="12.2" fill="#333" text-anchor="middle"><text x="444.40" y="231.1">0</text><text x="496.80" y="231.1">2</text><text x="549.20" y="231.1">4</text><text x="601.60" y="231.1">6</text><text x="654.00" y="231.1">8</text><text x="706.40" y="231.1" letter-spacing="-0.7">10</text></g><text x="588.5" y="245.6" font-size="12.6" fill="#222" text-anchor="middle">Frequency f / MHz</text><text transform="translate(407,111.8) rotate(-90)" font-size="12.6" fill="#222" text-anchor="middle">Voltage V / mV</text><text x="572.3" y="267" font-size="16" fill="#000" text-anchor="middle">(<tspan font-weight="bold">b</tspan>)</text><line x1="586.3" y1="69.1" x2="549.3" y2="111" stroke="#000" stroke-width="1.35"/><line x1="608.3" y1="138.5" x2="534.3" y2="177.5" stroke="#888" stroke-width="1.35"/><rect x="587.3" y="53.9" width="46.4" height="18.6" fill="#fff" stroke="#000" stroke-width="2"/><g fill="#000" color="#000" stroke="#000" stroke-width="0.15"><text x="593.74" y="67.90" font-family="'DejaVu Math TeX Gyre', 'DejaVu Sans', sans-serif" font-size="13.2" stroke-width="0.35" stroke="currentColor">ℱ</text><text transform="translate(603.79,69.10) scale(0.72,1)" font-family="'Liberation Serif', 'DejaVu Serif', serif" font-size="14.0" >{</text><text x="608.41" y="67.60" font-family="'Liberation Serif', 'DejaVu Serif', serif" font-size="12.6" >u</text><text x="615.46" y="70.90" font-family="'Liberation Serif', 'DejaVu Serif', serif" font-size="8.1" >R</text><text transform="translate(621.29,69.10) scale(0.72,1)" font-family="'Liberation Serif', 'DejaVu Serif', serif" font-size="14.0" >}</text></g><rect x="609.3" y="122.7" width="65.9" height="20.6" fill="#fff" stroke="#888" stroke-width="2"/><g fill="#888" color="#888" stroke="#888" stroke-width="0.15"><text x="616.34" y="136.40" font-family="'DejaVu Math TeX Gyre', 'DejaVu Sans', sans-serif" font-size="13.2" stroke-width="0.35" stroke="currentColor">ℱ</text><text transform="translate(626.09,137.60) scale(0.72,1)" font-family="'Liberation Serif', 'DejaVu Serif', serif" font-size="14.0" >{</text><text x="630.61" y="136.10" font-family="'Liberation Serif', 'DejaVu Serif', serif" font-size="12.6" >u</text><text x="637.64" y="139.40" font-family="'Liberation Serif', 'DejaVu Serif', serif" font-size="8.8" letter-spacing="0.15">R,theo</text><text transform="translate(662.29,137.60) scale(0.72,1)" font-family="'Liberation Serif', 'DejaVu Serif', serif" font-size="14.0" >}</text></g></svg>
</body></html>
